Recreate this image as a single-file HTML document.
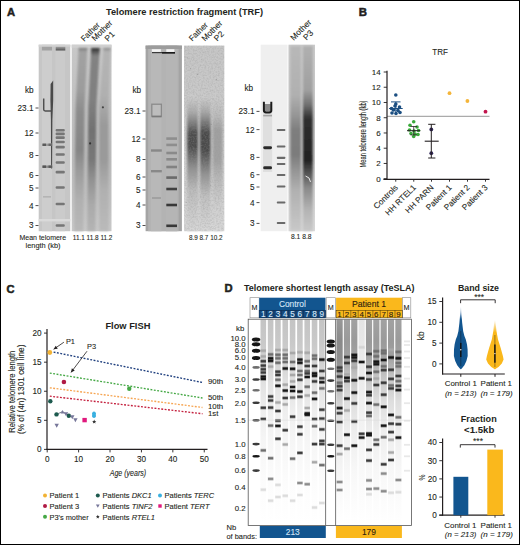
<!DOCTYPE html>
<html><head><meta charset="utf-8"><style>
html,body{margin:0;padding:0;background:#fff;}
body{width:520px;height:545px;overflow:hidden;}
svg{display:block;font-family:"Liberation Sans",sans-serif;}
</style></head><body>
<svg width="520" height="545" viewBox="0 0 520 545">
<defs><linearGradient id="well1" gradientUnits="userSpaceOnUse" x1="0" y1="46.8" x2="0" y2="50.5"><stop offset="0.0000" stop-color="#a0a0a0"/><stop offset="0.5946" stop-color="#707070"/><stop offset="1.0000" stop-color="#505050"/></linearGradient><linearGradient id="g1bg" gradientUnits="userSpaceOnUse" x1="0" y1="45" x2="0" y2="231"><stop offset="0.0000" stop-color="#c8c8c8"/><stop offset="0.2957" stop-color="#c0c0c0"/><stop offset="0.6183" stop-color="#bababa"/><stop offset="0.8333" stop-color="#c0c0c0"/><stop offset="1.0000" stop-color="#c8c8c8"/></linearGradient><linearGradient id="g1F" gradientUnits="userSpaceOnUse" x1="0" y1="48" x2="0" y2="231"><stop offset="0.0000" stop-color="#787878"/><stop offset="0.0219" stop-color="#a2a2a2"/><stop offset="0.2295" stop-color="#9c9c9c"/><stop offset="0.3497" stop-color="#8c8c8c"/><stop offset="0.5574" stop-color="#868686"/><stop offset="0.6776" stop-color="#9c9c9c"/><stop offset="0.8306" stop-color="#b0b0b0"/><stop offset="1.0000" stop-color="#b8b8b8"/></linearGradient><linearGradient id="g1M" gradientUnits="userSpaceOnUse" x1="0" y1="48" x2="0" y2="231"><stop offset="0.0000" stop-color="#2a2a2a"/><stop offset="0.0219" stop-color="#5a5a5a"/><stop offset="0.0437" stop-color="#828282"/><stop offset="0.2842" stop-color="#808080"/><stop offset="0.4481" stop-color="#727272"/><stop offset="0.6120" stop-color="#787878"/><stop offset="0.7213" stop-color="#929292"/><stop offset="0.8579" stop-color="#aaaaaa"/><stop offset="1.0000" stop-color="#b4b4b4"/></linearGradient><linearGradient id="g1P" gradientUnits="userSpaceOnUse" x1="0" y1="48" x2="0" y2="231"><stop offset="0.0000" stop-color="#8a8a8a"/><stop offset="0.0219" stop-color="#b4b4b4"/><stop offset="0.2568" stop-color="#b0b0b0"/><stop offset="0.4208" stop-color="#9a9a9a"/><stop offset="0.6120" stop-color="#9a9a9a"/><stop offset="0.7760" stop-color="#b0b0b0"/><stop offset="1.0000" stop-color="#bababa"/></linearGradient><linearGradient id="g2bg" gradientUnits="userSpaceOnUse" x1="0" y1="45" x2="0" y2="231"><stop offset="0.0000" stop-color="#c6c6c6"/><stop offset="0.2957" stop-color="#cacaca"/><stop offset="0.7258" stop-color="#d2d2d2"/><stop offset="1.0000" stop-color="#d6d6d6"/></linearGradient><linearGradient id="g2a" gradientUnits="userSpaceOnUse" x1="0" y1="98" x2="0" y2="231"><stop offset="0.0000" stop-color="#cacaca"/><stop offset="0.1053" stop-color="#acacac"/><stop offset="0.1955" stop-color="#7a7a7a"/><stop offset="0.2632" stop-color="#4e4e4e"/><stop offset="0.3609" stop-color="#4c4c4c"/><stop offset="0.4361" stop-color="#6a6a6a"/><stop offset="0.5263" stop-color="#909090"/><stop offset="0.6917" stop-color="#bcbcbc"/><stop offset="1.0000" stop-color="#d6d6d6"/></linearGradient><linearGradient id="g2b" gradientUnits="userSpaceOnUse" x1="0" y1="98" x2="0" y2="231"><stop offset="0.0000" stop-color="#cacaca"/><stop offset="0.1053" stop-color="#a8a8a8"/><stop offset="0.1955" stop-color="#727272"/><stop offset="0.2632" stop-color="#4a4a4a"/><stop offset="0.3910" stop-color="#4a4a4a"/><stop offset="0.4662" stop-color="#686868"/><stop offset="0.5714" stop-color="#929292"/><stop offset="0.7368" stop-color="#c0c0c0"/><stop offset="1.0000" stop-color="#d6d6d6"/></linearGradient><linearGradient id="g2c" gradientUnits="userSpaceOnUse" x1="0" y1="98" x2="0" y2="231"><stop offset="0.0000" stop-color="#cacaca"/><stop offset="0.1278" stop-color="#bcbcbc"/><stop offset="0.2406" stop-color="#a0a0a0"/><stop offset="0.4662" stop-color="#a2a2a2"/><stop offset="0.6015" stop-color="#b8b8b8"/><stop offset="0.8045" stop-color="#cecece"/><stop offset="1.0000" stop-color="#d8d8d8"/></linearGradient><linearGradient id="g3bg" gradientUnits="userSpaceOnUse" x1="0" y1="45" x2="0" y2="231"><stop offset="0.0000" stop-color="#cacaca"/><stop offset="0.4032" stop-color="#c8c8c8"/><stop offset="0.7258" stop-color="#d0d0d0"/><stop offset="1.0000" stop-color="#d8d8d8"/></linearGradient><linearGradient id="g3M" gradientUnits="userSpaceOnUse" x1="0" y1="46" x2="0" y2="231"><stop offset="0.0000" stop-color="#b8b8b8"/><stop offset="0.2649" stop-color="#b0b0b0"/><stop offset="0.3730" stop-color="#969696"/><stop offset="0.4541" stop-color="#7e7e7e"/><stop offset="0.5892" stop-color="#7c7c7c"/><stop offset="0.6703" stop-color="#949494"/><stop offset="0.7784" stop-color="#b0b0b0"/><stop offset="1.0000" stop-color="#c8c8c8"/></linearGradient><linearGradient id="g3P" gradientUnits="userSpaceOnUse" x1="0" y1="46" x2="0" y2="231"><stop offset="0.0000" stop-color="#b0b0b0"/><stop offset="0.2378" stop-color="#a0a0a0"/><stop offset="0.3189" stop-color="#707070"/><stop offset="0.3892" stop-color="#303030"/><stop offset="0.6162" stop-color="#222222"/><stop offset="0.6811" stop-color="#505050"/><stop offset="0.7676" stop-color="#8a8a8a"/><stop offset="0.8865" stop-color="#b4b4b4"/><stop offset="1.0000" stop-color="#c8c8c8"/></linearGradient><filter id="noise" x="0" y="0" width="100%" height="100%"><feTurbulence type="fractalNoise" baseFrequency="0.6" numOctaves="2" seed="5"/><feColorMatrix type="matrix" values="0 0 0 0 0.3  0 0 0 0 0.3  0 0 0 0 0.3  1.6 0 0 0 -0.6"/><feComposite in2="SourceGraphic" operator="in"/></filter><filter id="gblur" x="0" y="0" width="520" height="545" filterUnits="userSpaceOnUse"><feGaussianBlur stdDeviation="0.35"/></filter><filter id="b05" x="-50%" y="-50%" width="200%" height="200%"><feGaussianBlur stdDeviation="0.5"/></filter>
<filter id="b07" x="-50%" y="-50%" width="200%" height="200%"><feGaussianBlur stdDeviation="0.7"/></filter>
<filter id="b08" x="-50%" y="-50%" width="200%" height="200%"><feGaussianBlur stdDeviation="0.85"/></filter>
<filter id="b1" x="-50%" y="-50%" width="200%" height="200%"><feGaussianBlur stdDeviation="1.2"/></filter><linearGradient id="lsC" x1="0" y1="0" x2="0" y2="1"><stop offset="0" stop-color="#c4c4c4"/><stop offset="0.1" stop-color="#c8c8c8"/><stop offset="0.2" stop-color="#d0d0d0"/><stop offset="0.3" stop-color="#e0e0e0"/><stop offset="0.45" stop-color="#eeeeee"/><stop offset="0.6" stop-color="#f6f6f6"/><stop offset="0.8" stop-color="#fcfcfc"/><stop offset="1" stop-color="#ffffff"/></linearGradient><linearGradient id="lsP" x1="0" y1="0" x2="0" y2="1"><stop offset="0" stop-color="#a2a2a2"/><stop offset="0.1" stop-color="#9a9a9a"/><stop offset="0.18" stop-color="#a0a0a0"/><stop offset="0.28" stop-color="#c4c4c4"/><stop offset="0.4" stop-color="#dedede"/><stop offset="0.55" stop-color="#eeeeee"/><stop offset="0.75" stop-color="#f8f8f8"/><stop offset="1" stop-color="#ffffff"/></linearGradient><linearGradient id="lsP1" x1="0" y1="0" x2="0" y2="1"><stop offset="0" stop-color="#989898"/><stop offset="0.1" stop-color="#8a8a8a"/><stop offset="0.2" stop-color="#8e8e8e"/><stop offset="0.3" stop-color="#b4b4b4"/><stop offset="0.42" stop-color="#d6d6d6"/><stop offset="0.55" stop-color="#eaeaea"/><stop offset="0.75" stop-color="#f6f6f6"/><stop offset="1" stop-color="#ffffff"/></linearGradient><linearGradient id="lsP4" x1="0" y1="0" x2="0" y2="1"><stop offset="0" stop-color="#e4e4e4"/><stop offset="0.3" stop-color="#ececec"/><stop offset="0.7" stop-color="#f8f8f8"/><stop offset="1" stop-color="#ffffff"/></linearGradient><filter id="b04" x="-10%" y="-10%" width="120%" height="120%"><feGaussianBlur stdDeviation="0.5"/></filter><linearGradient id="vgC" x1="0" y1="0" x2="0" y2="1"><stop offset="0" stop-color="#ffffff"/><stop offset="0.1" stop-color="#9fb8d3"/><stop offset="0.2" stop-color="#12558f"/><stop offset="1" stop-color="#12558f"/></linearGradient><linearGradient id="vgP" x1="0" y1="0" x2="0" y2="1"><stop offset="0" stop-color="#ffffff"/><stop offset="0.12" stop-color="#f9dc98"/><stop offset="0.25" stop-color="#fab81c"/><stop offset="1" stop-color="#fab81c"/></linearGradient></defs>
<rect x="0" y="0" width="520" height="545" fill="#fff"/>
<text x="7" y="15.6" font-size="11.2" font-weight="bold" fill="#231f20" stroke="#231f20" stroke-width="0.5">A</text>
<text x="106" y="15" font-size="9.25" font-weight="bold" fill="#231f20" textLength="157" lengthAdjust="spacingAndGlyphs" >Telomere restriction fragment (TRF)</text>
<rect x="38.7" y="44.7" width="31.6" height="186.5" fill="#c6c6c6" />
<rect x="42" y="44.7" width="10" height="186.5" fill="#cdcdcd" />
<rect x="55.5" y="44.7" width="9.5" height="186.5" fill="#cbcbcb" />
<rect x="38.7" y="44.7" width="31.6" height="2" fill="#d2d2d2" />
<rect x="41.9" y="46.8" width="10.1" height="3.7" fill="#a2a2a2" filter="url(#b05)"/>
<rect x="55.7" y="46.8" width="9.6" height="3.7" fill="url(#well1)" filter="url(#b05)"/>
<rect x="38.7" y="219" width="31.6" height="2.4" fill="#dadada" />
<g filter="url(#b05)">
<path d="M43.7 98.5 L43.7 109.5 Q43.7 110.9 45.2 110.9 L51 110.9" fill="none" stroke="#505050" stroke-width="1.5" />
<polygon points="50.60,84.00 53.20,80.50 53.20,100.00 52.40,120.00 52.10,168.50 51.10,168.50 50.90,120.00 50.40,100.00" fill="#4a4a4a" />
<rect x="42.5" y="143.6" width="10" height="2.4" fill="#9a9a9a" />
<rect x="42.5" y="143.6" width="3.5" height="2.4" fill="#5a5a5a" />
<rect x="48.5" y="143.6" width="3.5" height="2.4" fill="#6a6a6a" />
<rect x="42.5" y="165.5" width="10" height="2.4" fill="#8a8a8a" />
<rect x="42.5" y="165.5" width="3.5" height="2.4" fill="#555" />
<rect x="48.5" y="165.5" width="3.5" height="2.4" fill="#5a5a5a" />
<rect x="43" y="196" width="8" height="1.6" fill="#b4b4b4" />
<rect x="55.6" y="128.89999999999998" width="9.2" height="2.6" fill="#767676" rx="1"/>
<rect x="55.6" y="132.6" width="9.2" height="2.6" fill="#767676" rx="1"/>
<rect x="55.6" y="136.29999999999998" width="9.2" height="2.6" fill="#767676" rx="1"/>
<rect x="55.6" y="140.7" width="9.2" height="2.6" fill="#767676" rx="1"/>
<rect x="55.6" y="145.79999999999998" width="9.2" height="2.6" fill="#767676" rx="1"/>
<rect x="55.6" y="153.2" width="9.2" height="2.6" fill="#767676" rx="1"/>
<rect x="55.6" y="161.2" width="9.2" height="2.6" fill="#767676" rx="1"/>
<rect x="55.6" y="170.79999999999998" width="9.2" height="2.6" fill="#767676" rx="1"/>
<rect x="55.6" y="186.2" width="9.2" height="2.6" fill="#767676" rx="1"/>
<rect x="55.6" y="202.7" width="9.2" height="2.6" fill="#767676" rx="1"/>
<rect x="55.6" y="224.2" width="9.2" height="2.6" fill="#767676" rx="1"/>
</g>
<rect x="71.7" y="44.7" width="39.8" height="186.5" fill="url(#g1bg)" />
<rect x="71.7" y="44.7" width="39.8" height="3" fill="#d0d0d0" />
<g filter="url(#b08)">
<polygon points="78.60,48.00 87.30,48.00 84.60,107.00 83.40,231.00 74.20,231.00 75.60,107.00" fill="url(#g1F)" />
<polygon points="91.20,48.00 99.80,48.00 96.40,107.00 95.40,231.00 87.20,231.00 88.20,107.00" fill="url(#g1M)" />
<polygon points="103.50,48.00 110.50,48.00 108.40,107.00 108.60,231.00 99.30,231.00 99.20,107.00" fill="url(#g1P)" />
</g>
<circle cx="90.1" cy="143.4" r="1.1" fill="#333" filter="url(#b05)"/>
<circle cx="102.9" cy="107.3" r="1.1" fill="#444" filter="url(#b05)"/>
<rect x="145.6" y="45.6" width="36.3" height="185.6" fill="#a4a4a4" />
<rect x="148.2" y="45.6" width="30.4" height="185.6" fill="#b3b3b3" />
<rect x="151" y="45.6" width="10.5" height="185.6" fill="#b8b8b8" />
<rect x="166" y="45.6" width="11" height="185.6" fill="#b5b5b5" />
<rect x="145.6" y="45.6" width="36.3" height="3.4" fill="#9c9c9c" />
<rect x="151.9" y="49.2" width="9" height="2.7" fill="#f4f4f4" />
<rect x="166.3" y="49.2" width="8.1" height="2.7" fill="#f4f4f4" />
<rect x="152" y="52" width="23" height="1.2" fill="#3a3a3a" filter="url(#b05)"/>
<rect x="162" y="52" width="13" height="1.6" fill="#1a1a1a" />
<g filter="url(#b05)">
<rect x="151.8" y="104.2" width="9.6" height="12.4" fill="#bdbdbd" stroke="#8a8a8a" stroke-width="1.3"/>
<line x1="152" y1="116.4" x2="161.2" y2="116.4" stroke="#7a7a7a" stroke-width="1.6" />
<rect x="151" y="149.3" width="10.8" height="2.4" fill="#888" />
<rect x="151" y="170" width="10.8" height="2.4" fill="#888" />
<rect x="152" y="197.2" width="9" height="1.6" fill="#9c9c9c" />
<rect x="166.3" y="137.29999999999998" width="10.7" height="2.6" fill="#8e8e8e" />
<rect x="166.3" y="143.6" width="10.7" height="2.6" fill="#8e8e8e" />
<rect x="166.3" y="151.7" width="10.7" height="2.6" fill="#8a8a8a" />
<rect x="166.3" y="158.0" width="10.7" height="2.6" fill="#8a8a8a" />
<rect x="166.3" y="165.7" width="10.7" height="2.6" fill="#828282" />
<rect x="166.3" y="176.29999999999998" width="10.7" height="2.6" fill="#6a6a6a" />
<rect x="166.3" y="187.7" width="10.7" height="2.6" fill="#404040" />
<rect x="166.3" y="203.7" width="10.7" height="2.6" fill="#383838" />
<rect x="166.3" y="224.5" width="10.7" height="2.6" fill="#383838" />
</g>
<rect x="184" y="45.6" width="40.3" height="185.6" fill="url(#g2bg)" />
<circle cx="197.5" cy="74.3" r="0.66" fill="#8a8a8a" opacity="0.7"/>
<circle cx="187.8" cy="144.0" r="0.55" fill="#8a8a8a" opacity="0.7"/>
<circle cx="187.2" cy="138.8" r="0.41" fill="#8a8a8a" opacity="0.7"/>
<circle cx="201.7" cy="59.6" r="0.44" fill="#8a8a8a" opacity="0.7"/>
<circle cx="201.3" cy="196.7" r="0.45" fill="#8a8a8a" opacity="0.7"/>
<circle cx="193.6" cy="160.6" r="0.78" fill="#8a8a8a" opacity="0.7"/>
<circle cx="207.2" cy="118.8" r="0.79" fill="#8a8a8a" opacity="0.7"/>
<circle cx="186.8" cy="202.4" r="0.52" fill="#8a8a8a" opacity="0.7"/>
<circle cx="190.6" cy="68.3" r="0.52" fill="#8a8a8a" opacity="0.7"/>
<circle cx="216.4" cy="79.7" r="0.63" fill="#8a8a8a" opacity="0.7"/>
<circle cx="209.6" cy="114.4" r="0.62" fill="#8a8a8a" opacity="0.7"/>
<circle cx="187.4" cy="57.8" r="0.48" fill="#8a8a8a" opacity="0.7"/>
<circle cx="211.2" cy="124.4" r="0.53" fill="#8a8a8a" opacity="0.7"/>
<circle cx="207.5" cy="129.0" r="0.52" fill="#8a8a8a" opacity="0.7"/>
<circle cx="215.6" cy="173.5" r="0.5" fill="#8a8a8a" opacity="0.7"/>
<circle cx="207.1" cy="142.1" r="0.75" fill="#8a8a8a" opacity="0.7"/>
<circle cx="213.1" cy="99.1" r="0.79" fill="#8a8a8a" opacity="0.7"/>
<circle cx="189.5" cy="122.7" r="0.7" fill="#8a8a8a" opacity="0.7"/>
<circle cx="190.9" cy="135.5" r="0.42" fill="#8a8a8a" opacity="0.7"/>
<circle cx="210.7" cy="185.4" r="0.63" fill="#8a8a8a" opacity="0.7"/>
<circle cx="218.7" cy="103.8" r="0.68" fill="#8a8a8a" opacity="0.7"/>
<circle cx="207.9" cy="152.0" r="0.58" fill="#8a8a8a" opacity="0.7"/>
<g filter="url(#b08)">
<polygon points="187.20,98.00 198.00,98.00 198.00,150.00 198.00,231.00 187.20,231.00 187.20,150.00" fill="url(#g2a)" />
<polygon points="200.00,98.00 210.60,98.00 210.60,150.00 210.60,231.00 200.00,231.00 200.00,150.00" fill="url(#g2b)" />
<polygon points="212.60,98.00 222.60,98.00 222.60,150.00 222.60,231.00 212.60,231.00 212.60,150.00" fill="url(#g2c)" />
</g>
<rect x="184" y="45.6" width="40.3" height="185.6" fill="#000" filter="url(#noise)" opacity="0.42"/>
<rect x="260.7" y="44.7" width="26.8" height="186.5" fill="#efefef" />
<g filter="url(#b05)">
<rect x="263" y="108" width="9.2" height="64" fill="#dfdfdf" />
<rect x="264.5" y="104" width="6.2" height="7.5" fill="#8a8a8a" />
<path d="M263.9 101.8 L263.9 110.6 Q263.9 112.4 266 112.4 L269.3 112.4 Q271.3 112.4 271.3 110.6 L271.3 101.8" fill="none" stroke="#1c1c1c" stroke-width="2.0" />
<rect x="263.2" y="114.8" width="8.8" height="1.6" fill="#a4a4a4" />
<rect x="263.2" y="146.2" width="8.8" height="3" fill="#2a2a2a" rx="1.4"/>
<rect x="263.2" y="166.3" width="8.8" height="3" fill="#2a2a2a" rx="1.4"/>
<rect x="276.8" y="129" width="8.6" height="2.1" fill="#6a6a6a" rx="0.8"/>
<rect x="276.8" y="145.4" width="8.6" height="2.1" fill="#6a6a6a" rx="0.8"/>
<rect x="276.8" y="156.8" width="8.6" height="2.1" fill="#6a6a6a" rx="0.8"/>
<rect x="276.8" y="163" width="8.6" height="2.1" fill="#6a6a6a" rx="0.8"/>
<rect x="276.8" y="174" width="8.6" height="2.1" fill="#6a6a6a" rx="0.8"/>
<rect x="276.8" y="185.4" width="8.6" height="2.1" fill="#6a6a6a" rx="0.8"/>
<rect x="276.8" y="201.5" width="8.6" height="2.1" fill="#6a6a6a" rx="0.8"/>
<rect x="276.8" y="221.9" width="8.6" height="2.1" fill="#6a6a6a" rx="0.8"/>
</g>
<rect x="288.5" y="44.7" width="26.5" height="186.5" fill="url(#g3bg)" />
<g filter="url(#b1)">
<polygon points="290.30,46.00 301.00,46.00 301.00,130.00 301.00,231.00 290.30,231.00 290.30,130.00" fill="url(#g3M)" />
<polygon points="302.90,46.00 312.80,46.00 312.80,130.00 312.80,231.00 302.90,231.00 302.90,130.00" fill="url(#g3P)" />
</g>
<path d="M305.5 176 Q310 177 310.5 182" fill="none" stroke="#e8e8e8" stroke-width="1.0" />
<text x="25" y="92.6" font-size="8.2" fill="#231f20" stroke="#231f20" stroke-width="0.1" >kb</text>
<text x="33.5" y="110.9" font-size="8.2" text-anchor="end" fill="#231f20" stroke="#231f20" stroke-width="0.1" >23.1</text>
<line x1="35.5" y1="108" x2="38.5" y2="108" stroke="#231f20" stroke-width="0.8" />
<text x="33.5" y="135.9" font-size="8.2" text-anchor="end" fill="#231f20" stroke="#231f20" stroke-width="0.1" >12</text>
<line x1="35.5" y1="133" x2="38.5" y2="133" stroke="#231f20" stroke-width="0.8" />
<text x="33.5" y="158.4" font-size="8.2" text-anchor="end" fill="#231f20" stroke="#231f20" stroke-width="0.1" >8</text>
<line x1="35.5" y1="155.5" x2="38.5" y2="155.5" stroke="#231f20" stroke-width="0.8" />
<text x="33.5" y="178.4" font-size="8.2" text-anchor="end" fill="#231f20" stroke="#231f20" stroke-width="0.1" >6</text>
<line x1="35.5" y1="175.5" x2="38.5" y2="175.5" stroke="#231f20" stroke-width="0.8" />
<text x="33.5" y="190.9" font-size="8.2" text-anchor="end" fill="#231f20" stroke="#231f20" stroke-width="0.1" >5</text>
<line x1="35.5" y1="188" x2="38.5" y2="188" stroke="#231f20" stroke-width="0.8" />
<text x="33.5" y="208.5" font-size="8.2" text-anchor="end" fill="#231f20" stroke="#231f20" stroke-width="0.1" >4</text>
<line x1="35.5" y1="205.6" x2="38.5" y2="205.6" stroke="#231f20" stroke-width="0.8" />
<text x="33.5" y="228.4" font-size="8.2" text-anchor="end" fill="#231f20" stroke="#231f20" stroke-width="0.1" >3</text>
<line x1="35.5" y1="225.5" x2="38.5" y2="225.5" stroke="#231f20" stroke-width="0.8" />
<text x="132.5" y="92.6" font-size="8.2" fill="#231f20" stroke="#231f20" stroke-width="0.1" >kb</text>
<text x="140.5" y="113.9" font-size="8.2" text-anchor="end" fill="#231f20" stroke="#231f20" stroke-width="0.1" >23.1</text>
<line x1="142.5" y1="111" x2="145.5" y2="111" stroke="#231f20" stroke-width="0.8" />
<text x="140.5" y="141.9" font-size="8.2" text-anchor="end" fill="#231f20" stroke="#231f20" stroke-width="0.1" >12</text>
<line x1="142.5" y1="139" x2="145.5" y2="139" stroke="#231f20" stroke-width="0.8" />
<text x="140.5" y="162.4" font-size="8.2" text-anchor="end" fill="#231f20" stroke="#231f20" stroke-width="0.1" >8</text>
<line x1="142.5" y1="159.5" x2="145.5" y2="159.5" stroke="#231f20" stroke-width="0.8" />
<text x="140.5" y="179.9" font-size="8.2" text-anchor="end" fill="#231f20" stroke="#231f20" stroke-width="0.1" >6</text>
<line x1="142.5" y1="177" x2="145.5" y2="177" stroke="#231f20" stroke-width="0.8" />
<text x="140.5" y="192.9" font-size="8.2" text-anchor="end" fill="#231f20" stroke="#231f20" stroke-width="0.1" >5</text>
<line x1="142.5" y1="190" x2="145.5" y2="190" stroke="#231f20" stroke-width="0.8" />
<text x="140.5" y="207.9" font-size="8.2" text-anchor="end" fill="#231f20" stroke="#231f20" stroke-width="0.1" >4</text>
<line x1="142.5" y1="205" x2="145.5" y2="205" stroke="#231f20" stroke-width="0.8" />
<text x="140.5" y="228.4" font-size="8.2" text-anchor="end" fill="#231f20" stroke="#231f20" stroke-width="0.1" >3</text>
<line x1="142.5" y1="225.5" x2="145.5" y2="225.5" stroke="#231f20" stroke-width="0.8" />
<text x="244.4" y="91.39999999999999" font-size="8.2" fill="#231f20" stroke="#231f20" stroke-width="0.1" >kb</text>
<text x="254.5" y="114.30000000000001" font-size="8.2" text-anchor="end" fill="#231f20" stroke="#231f20" stroke-width="0.1" >23.1</text>
<line x1="256.5" y1="111.4" x2="259.5" y2="111.4" stroke="#231f20" stroke-width="0.8" />
<text x="254.5" y="132.5" font-size="8.2" text-anchor="end" fill="#231f20" stroke="#231f20" stroke-width="0.1" >12</text>
<line x1="256.5" y1="129.6" x2="259.5" y2="129.6" stroke="#231f20" stroke-width="0.8" />
<text x="254.5" y="160.3" font-size="8.2" text-anchor="end" fill="#231f20" stroke="#231f20" stroke-width="0.1" >8</text>
<line x1="256.5" y1="157.4" x2="259.5" y2="157.4" stroke="#231f20" stroke-width="0.8" />
<text x="254.5" y="177.6" font-size="8.2" text-anchor="end" fill="#231f20" stroke="#231f20" stroke-width="0.1" >6</text>
<line x1="256.5" y1="174.7" x2="259.5" y2="174.7" stroke="#231f20" stroke-width="0.8" />
<text x="254.5" y="189.9" font-size="8.2" text-anchor="end" fill="#231f20" stroke="#231f20" stroke-width="0.1" >5</text>
<line x1="256.5" y1="187" x2="259.5" y2="187" stroke="#231f20" stroke-width="0.8" />
<text x="254.5" y="205.5" font-size="8.2" text-anchor="end" fill="#231f20" stroke="#231f20" stroke-width="0.1" >4</text>
<line x1="256.5" y1="202.6" x2="259.5" y2="202.6" stroke="#231f20" stroke-width="0.8" />
<text x="254.5" y="226.3" font-size="8.2" text-anchor="end" fill="#231f20" stroke="#231f20" stroke-width="0.1" >3</text>
<line x1="256.5" y1="223.4" x2="259.5" y2="223.4" stroke="#231f20" stroke-width="0.8" />
<text x="84.2" y="41.9" font-size="8.4" fill="#231f20" stroke="#231f20" stroke-width="0.1" textLength="23" lengthAdjust="spacingAndGlyphs" transform="rotate(-45 84.2 41.9)" >Father</text>
<text x="95" y="41.6" font-size="8.4" fill="#231f20" stroke="#231f20" stroke-width="0.1" textLength="25.5" lengthAdjust="spacingAndGlyphs" transform="rotate(-45 95 41.6)" >Mother</text>
<text x="108" y="41.9" font-size="8.4" fill="#231f20" stroke="#231f20" stroke-width="0.1" transform="rotate(-45 108 41.9)" >P1</text>
<text x="192.2" y="41.8" font-size="8.4" fill="#231f20" stroke="#231f20" stroke-width="0.1" textLength="23" lengthAdjust="spacingAndGlyphs" transform="rotate(-45 192.2 41.8)" >Father</text>
<text x="204.9" y="41.8" font-size="8.4" fill="#231f20" stroke="#231f20" stroke-width="0.1" textLength="25.5" lengthAdjust="spacingAndGlyphs" transform="rotate(-45 204.9 41.8)" >Mother</text>
<text x="217.3" y="41.8" font-size="8.4" fill="#231f20" stroke="#231f20" stroke-width="0.1" transform="rotate(-45 217.3 41.8)" >P2</text>
<text x="293.8" y="40.9" font-size="8.4" fill="#231f20" stroke="#231f20" stroke-width="0.1" textLength="25.5" lengthAdjust="spacingAndGlyphs" transform="rotate(-45 293.8 40.9)" >Mother</text>
<text x="306.5" y="40.7" font-size="8.4" fill="#231f20" stroke="#231f20" stroke-width="0.1" transform="rotate(-45 306.5 40.7)" >P3</text>
<text x="42.8" y="239.5" font-size="7.4" text-anchor="middle" fill="#231f20" stroke="#231f20" stroke-width="0.1" textLength="46.5" lengthAdjust="spacingAndGlyphs" >Mean telomere</text>
<text x="43" y="248.4" font-size="7.4" text-anchor="middle" fill="#231f20" stroke="#231f20" stroke-width="0.1" textLength="35" lengthAdjust="spacingAndGlyphs" >length (kb)</text>
<text x="72.8" y="239.5" font-size="7.2" fill="#231f20" stroke="#231f20" stroke-width="0.1" textLength="39.6" lengthAdjust="spacingAndGlyphs" >11.1 11.8 11.2</text>
<text x="189" y="239.6" font-size="7.2" fill="#231f20" stroke="#231f20" stroke-width="0.1" textLength="33.5" lengthAdjust="spacingAndGlyphs" >8.9 8.7 10.2</text>
<text x="291" y="238.6" font-size="7.2" fill="#231f20" stroke="#231f20" stroke-width="0.1" textLength="20.5" lengthAdjust="spacingAndGlyphs" >8.1 8.8</text>
<text x="358.7" y="15.9" font-size="11.4" font-weight="bold" fill="#231f20" stroke="#231f20" stroke-width="0.5">B</text>
<text x="432.3" y="54.6" font-size="9.1" fill="#231f20" stroke="#231f20" stroke-width="0.1" textLength="15.7" lengthAdjust="spacingAndGlyphs" >TRF</text>
<line x1="387" y1="116.3" x2="489.5" y2="116.3" stroke="#8a8a8a" stroke-width="0.9" />
<line x1="387" y1="70.8" x2="387" y2="179.9" stroke="#231f20" stroke-width="1.2" />
<line x1="383.4" y1="179.3" x2="489.5" y2="179.3" stroke="#231f20" stroke-width="1.2" />
<line x1="383.7" y1="178.7" x2="387" y2="178.7" stroke="#231f20" stroke-width="0.9" />
<text x="380.7" y="181.6" font-size="8.0" text-anchor="end" fill="#231f20" stroke="#231f20" stroke-width="0.1" >0</text>
<line x1="383.7" y1="163.45714285714286" x2="387" y2="163.45714285714286" stroke="#231f20" stroke-width="0.9" />
<text x="380.7" y="166.35714285714286" font-size="8.0" text-anchor="end" fill="#231f20" stroke="#231f20" stroke-width="0.1" >2</text>
<line x1="383.7" y1="148.2142857142857" x2="387" y2="148.2142857142857" stroke="#231f20" stroke-width="0.9" />
<text x="380.7" y="151.1142857142857" font-size="8.0" text-anchor="end" fill="#231f20" stroke="#231f20" stroke-width="0.1" >4</text>
<line x1="383.7" y1="132.97142857142856" x2="387" y2="132.97142857142856" stroke="#231f20" stroke-width="0.9" />
<text x="380.7" y="135.87142857142857" font-size="8.0" text-anchor="end" fill="#231f20" stroke="#231f20" stroke-width="0.1" >6</text>
<line x1="383.7" y1="117.72857142857143" x2="387" y2="117.72857142857143" stroke="#231f20" stroke-width="0.9" />
<text x="380.7" y="120.62857142857143" font-size="8.0" text-anchor="end" fill="#231f20" stroke="#231f20" stroke-width="0.1" >8</text>
<line x1="383.7" y1="102.48571428571428" x2="387" y2="102.48571428571428" stroke="#231f20" stroke-width="0.9" />
<text x="380.7" y="105.38571428571429" font-size="8.0" text-anchor="end" fill="#231f20" stroke="#231f20" stroke-width="0.1" >10</text>
<line x1="383.7" y1="87.24285714285713" x2="387" y2="87.24285714285713" stroke="#231f20" stroke-width="0.9" />
<text x="380.7" y="90.14285714285714" font-size="8.0" text-anchor="end" fill="#231f20" stroke="#231f20" stroke-width="0.1" >12</text>
<line x1="383.7" y1="72.0" x2="387" y2="72.0" stroke="#231f20" stroke-width="0.9" />
<text x="380.7" y="74.9" font-size="8.0" text-anchor="end" fill="#231f20" stroke="#231f20" stroke-width="0.1" >14</text>
<line x1="395.75" y1="179.3" x2="395.75" y2="181.70000000000002" stroke="#231f20" stroke-width="0.9" />
<line x1="413.75" y1="179.3" x2="413.75" y2="181.70000000000002" stroke="#231f20" stroke-width="0.9" />
<line x1="431.5" y1="179.3" x2="431.5" y2="181.70000000000002" stroke="#231f20" stroke-width="0.9" />
<line x1="449.5" y1="179.3" x2="449.5" y2="181.70000000000002" stroke="#231f20" stroke-width="0.9" />
<line x1="467.5" y1="179.3" x2="467.5" y2="181.70000000000002" stroke="#231f20" stroke-width="0.9" />
<line x1="485.5" y1="179.3" x2="485.5" y2="181.70000000000002" stroke="#231f20" stroke-width="0.9" />
<text x="398.45" y="188" font-size="8.2" text-anchor="end" fill="#231f20" stroke="#231f20" stroke-width="0.1" transform="rotate(-45 398.45 188)" >Controls</text>
<text x="416.45" y="188" font-size="8.2" text-anchor="end" fill="#231f20" stroke="#231f20" stroke-width="0.1" transform="rotate(-45 416.45 188)" >HH RTEL1</text>
<text x="434.2" y="188" font-size="8.2" text-anchor="end" fill="#231f20" stroke="#231f20" stroke-width="0.1" transform="rotate(-45 434.2 188)" >HH PARN</text>
<text x="452.2" y="188" font-size="8.2" text-anchor="end" fill="#231f20" stroke="#231f20" stroke-width="0.1" transform="rotate(-45 452.2 188)" >Patient 1</text>
<text x="470.2" y="188" font-size="8.2" text-anchor="end" fill="#231f20" stroke="#231f20" stroke-width="0.1" transform="rotate(-45 470.2 188)" >Patient 2</text>
<text x="488.2" y="188" font-size="8.2" text-anchor="end" fill="#231f20" stroke="#231f20" stroke-width="0.1" transform="rotate(-45 488.2 188)" >Patient 3</text>
<text x="365.8" y="134" font-size="8.6" text-anchor="middle" fill="#231f20" stroke="#231f20" stroke-width="0.1" textLength="67" lengthAdjust="spacingAndGlyphs" transform="rotate(-90 365.8 134)" >Mean telomere length (kb)</text>
<circle cx="395.8" cy="95" r="1.8" fill="#1c4f82" />
<circle cx="391.5" cy="108.5" r="1.8" fill="#1c4f82" />
<circle cx="395" cy="106" r="1.8" fill="#1c4f82" />
<circle cx="399.5" cy="107" r="1.8" fill="#1c4f82" />
<circle cx="392" cy="113" r="1.8" fill="#1c4f82" />
<circle cx="396" cy="113.5" r="1.8" fill="#1c4f82" />
<circle cx="400" cy="112.5" r="1.8" fill="#1c4f82" />
<circle cx="393.5" cy="110" r="1.8" fill="#1c4f82" />
<circle cx="398" cy="110.5" r="1.8" fill="#1c4f82" />
<circle cx="395.8" cy="104" r="1.8" fill="#1c4f82" />
<line x1="395.8" y1="101.9" x2="395.8" y2="115" stroke="#1c4f82" stroke-width="1.0" />
<line x1="391" y1="101.9" x2="400.5" y2="101.9" stroke="#1c4f82" stroke-width="1.0" />
<line x1="389" y1="108.5" x2="402.7" y2="108.5" stroke="#1c4f82" stroke-width="1.0" />
<circle cx="413.7" cy="121.7" r="1.8" fill="#3aaa3a" />
<circle cx="410" cy="125.3" r="1.8" fill="#3aaa3a" />
<circle cx="417" cy="127" r="1.8" fill="#3aaa3a" />
<circle cx="409.5" cy="130" r="1.8" fill="#3aaa3a" />
<circle cx="414" cy="131" r="1.8" fill="#3aaa3a" />
<circle cx="418.5" cy="130.5" r="1.8" fill="#3aaa3a" />
<circle cx="411" cy="133.5" r="1.8" fill="#3aaa3a" />
<circle cx="415" cy="134" r="1.8" fill="#3aaa3a" />
<circle cx="418" cy="134.5" r="1.8" fill="#3aaa3a" />
<circle cx="413.7" cy="136.5" r="1.8" fill="#3aaa3a" />
<line x1="413.75" y1="126.5" x2="413.75" y2="134.9" stroke="#231f20" stroke-width="0.8" />
<line x1="410.5" y1="126.5" x2="417" y2="126.5" stroke="#231f20" stroke-width="0.8" />
<line x1="407" y1="130.7" x2="420.3" y2="130.7" stroke="#231f20" stroke-width="1.0" />
<line x1="410.5" y1="134.9" x2="417" y2="134.9" stroke="#231f20" stroke-width="0.8" />
<circle cx="431.3" cy="129.4" r="1.9" fill="#2e2456" />
<circle cx="431.3" cy="153.2" r="1.9" fill="#2e2456" />
<line x1="431.3" y1="124.3" x2="431.3" y2="158" stroke="#231f20" stroke-width="1.0" />
<line x1="428.2" y1="124.3" x2="435.4" y2="124.3" stroke="#231f20" stroke-width="1.0" />
<line x1="428.2" y1="158" x2="435.4" y2="158" stroke="#231f20" stroke-width="1.0" />
<line x1="424.7" y1="141.2" x2="438.7" y2="141.2" stroke="#231f20" stroke-width="1.1" />
<circle cx="449.5" cy="93.2" r="1.9" fill="#f4b53a" />
<circle cx="467.4" cy="101" r="1.9" fill="#f4b53a" />
<circle cx="485.5" cy="111.7" r="1.9" fill="#c2164e" />
<text x="6.6" y="292.8" font-size="11.2" font-weight="bold" fill="#231f20" stroke="#231f20" stroke-width="0.5">C</text>
<text x="105.4" y="328.6" font-size="9.4" font-weight="bold" fill="#231f20" textLength="45" lengthAdjust="spacingAndGlyphs" >Flow FISH</text>
<line x1="53.6" y1="352.1" x2="202.5" y2="382.5" stroke="#1f3f7e" stroke-width="1.35" stroke-dasharray="1.9 1.5"/>
<line x1="49.8" y1="373.1" x2="202.5" y2="398" stroke="#45a845" stroke-width="1.35" stroke-dasharray="1.9 1.5"/>
<line x1="49.8" y1="387.8" x2="202.5" y2="407.5" stroke="#f6a552" stroke-width="1.35" stroke-dasharray="1.9 1.5"/>
<line x1="49.8" y1="396.2" x2="202.5" y2="413.75" stroke="#c4203e" stroke-width="1.35" stroke-dasharray="1.9 1.5"/>
<line x1="47" y1="329" x2="47" y2="450.0" stroke="#231f20" stroke-width="1.2" />
<line x1="46.4" y1="449.4" x2="207.5" y2="449.4" stroke="#231f20" stroke-width="1.2" />
<line x1="44" y1="449.4" x2="47" y2="449.4" stroke="#231f20" stroke-width="0.9" />
<text x="41.5" y="452.29999999999995" font-size="8.2" text-anchor="end" fill="#231f20" stroke="#231f20" stroke-width="0.1" >0</text>
<line x1="44" y1="420.325" x2="47" y2="420.325" stroke="#231f20" stroke-width="0.9" />
<text x="41.5" y="423.22499999999997" font-size="8.2" text-anchor="end" fill="#231f20" stroke="#231f20" stroke-width="0.1" >5</text>
<line x1="44" y1="391.25" x2="47" y2="391.25" stroke="#231f20" stroke-width="0.9" />
<text x="41.5" y="394.15" font-size="8.2" text-anchor="end" fill="#231f20" stroke="#231f20" stroke-width="0.1" >10</text>
<line x1="44" y1="362.175" x2="47" y2="362.175" stroke="#231f20" stroke-width="0.9" />
<text x="41.5" y="365.075" font-size="8.2" text-anchor="end" fill="#231f20" stroke="#231f20" stroke-width="0.1" >15</text>
<line x1="44" y1="333.1" x2="47" y2="333.1" stroke="#231f20" stroke-width="0.9" />
<text x="41.5" y="336.0" font-size="8.2" text-anchor="end" fill="#231f20" stroke="#231f20" stroke-width="0.1" >20</text>
<line x1="47.2" y1="449.4" x2="47.2" y2="452.4" stroke="#231f20" stroke-width="0.9" />
<text x="47.2" y="461.9" font-size="8.2" text-anchor="middle" fill="#231f20" stroke="#231f20" stroke-width="0.1" >0</text>
<line x1="78.61" y1="449.4" x2="78.61" y2="452.4" stroke="#231f20" stroke-width="0.9" />
<text x="78.61" y="461.9" font-size="8.2" text-anchor="middle" fill="#231f20" stroke="#231f20" stroke-width="0.1" >10</text>
<line x1="110.02000000000001" y1="449.4" x2="110.02000000000001" y2="452.4" stroke="#231f20" stroke-width="0.9" />
<text x="110.02000000000001" y="461.9" font-size="8.2" text-anchor="middle" fill="#231f20" stroke="#231f20" stroke-width="0.1" >20</text>
<line x1="141.43" y1="449.4" x2="141.43" y2="452.4" stroke="#231f20" stroke-width="0.9" />
<text x="141.43" y="461.9" font-size="8.2" text-anchor="middle" fill="#231f20" stroke="#231f20" stroke-width="0.1" >30</text>
<line x1="172.84" y1="449.4" x2="172.84" y2="452.4" stroke="#231f20" stroke-width="0.9" />
<text x="172.84" y="461.9" font-size="8.2" text-anchor="middle" fill="#231f20" stroke="#231f20" stroke-width="0.1" >40</text>
<line x1="204.25" y1="449.4" x2="204.25" y2="452.4" stroke="#231f20" stroke-width="0.9" />
<text x="204.25" y="461.9" font-size="8.2" text-anchor="middle" fill="#231f20" stroke="#231f20" stroke-width="0.1" >50</text>
<text x="109.7" y="475.6" font-size="8.6" fill="#231f20" stroke="#231f20" stroke-width="0.1" font-style="italic" textLength="36.5" lengthAdjust="spacingAndGlyphs" >Age (years)</text>
<text x="14.8" y="391.7" font-size="8.2" text-anchor="middle" fill="#231f20" stroke="#231f20" stroke-width="0.1" textLength="82" lengthAdjust="spacingAndGlyphs" transform="rotate(-90 14.8 391.7)" >Relative telomere length</text>
<text x="23.8" y="389.3" font-size="8.2" text-anchor="middle" fill="#231f20" stroke="#231f20" stroke-width="0.1" textLength="89.5" lengthAdjust="spacingAndGlyphs" transform="rotate(-90 23.8 389.3)" >(% of (4n) 1301 cell line)</text>
<text x="208" y="383.55" font-size="7.8" fill="#231f20" stroke="#231f20" stroke-width="0.1" >90th</text>
<text x="208" y="399.8" font-size="7.8" fill="#231f20" stroke="#231f20" stroke-width="0.1" >50th</text>
<text x="208" y="409.05" font-size="7.8" fill="#231f20" stroke="#231f20" stroke-width="0.1" >10th</text>
<text x="208" y="415.8" font-size="7.8" fill="#231f20" stroke="#231f20" stroke-width="0.1" >1st</text>
<circle cx="49.8" cy="352.5" r="2.4" fill="#f2b233" />
<circle cx="63.9" cy="382" r="2.3" fill="#b01a44" />
<circle cx="129.25" cy="388.75" r="2.2" fill="#45a845" />
<path d="M56.5 414.4 L62.5 411.6 L68.8 415.8 L72.3 417.2" fill="none" stroke="#4a5a6a" stroke-width="0.7" />
<circle cx="50.3" cy="401.3" r="2.2" fill="#1d5a4e" />
<circle cx="56.5" cy="414.4" r="2.2" fill="#1d5a4e" />
<circle cx="68.8" cy="415.8" r="2.2" fill="#1d5a4e" />
<path d="M54.5 423.84000000000003 L58.900000000000006 423.84000000000003 L56.7 427.8 Z" fill="#77779a" stroke="none" stroke-width="0.8" />
<path d="M60.5 413.6 L64.5 413.6 L62.5 410.0 Z" fill="#77779a" stroke="none" stroke-width="0.8" />
<path d="M63.8 412.24 L68.2 412.24 L66 416.2 Z" fill="#77779a" stroke="none" stroke-width="0.8" />
<path d="M70.1 415.24 L74.5 415.24 L72.3 419.2 Z" fill="#77779a" stroke="none" stroke-width="0.8" />
<path d="M73.2 418.34000000000003 L77.60000000000001 418.34000000000003 L75.4 422.3 Z" fill="#77779a" stroke="none" stroke-width="0.8" />
<rect x="82.4" y="417.9" width="4.4" height="4.4" fill="#e0197d" />
<circle cx="94" cy="413.2" r="1.8" fill="#3ab0e0" />
<circle cx="94" cy="416.3" r="1.8" fill="#3ab0e0" />
<rect x="92.2" y="413.2" width="3.6" height="3.1" fill="#3ab0e0" />
<polygon points="94.20,419.60 94.78,421.00 96.29,421.12 95.14,422.11 95.49,423.58 94.20,422.79 92.91,423.58 93.26,422.11 92.11,421.12 93.62,421.00" fill="#333"/>
<text x="65.9" y="343.5" font-size="7.4" fill="#231f20" stroke="#231f20" stroke-width="0.1" >P1</text>
<text x="87" y="349" font-size="7.4" fill="#231f20" stroke="#231f20" stroke-width="0.1" >P3</text>
<line x1="63.9" y1="342.2" x2="53.6" y2="349.3" stroke="#231f20" stroke-width="0.8" />
<path d="M53.6 349.3 L57.75 348.63 L55.71 345.66 Z" fill="#231f20" stroke="none" stroke-width="0.8" />
<line x1="87" y1="351.2" x2="71" y2="372.4" stroke="#231f20" stroke-width="0.8" />
<path d="M71 372.4 L74.73 370.45 L71.85 368.28 Z" fill="#231f20" stroke="none" stroke-width="0.8" />
<circle cx="45" cy="495.4" r="2.0" fill="#f2b233" />
<circle cx="45" cy="506" r="2.0" fill="#b01a44" />
<circle cx="45" cy="516.8" r="2.0" fill="#45a845" />
<text x="49.6" y="498.09999999999997" font-size="7.5" fill="#231f20" stroke="#231f20" stroke-width="0.1" >Patient 1</text>
<text x="49.6" y="508.7" font-size="7.5" fill="#231f20" stroke="#231f20" stroke-width="0.1" >Patient 3</text>
<text x="49.6" y="519.5" font-size="7.5" fill="#231f20" stroke="#231f20" stroke-width="0.1" textLength="39" lengthAdjust="spacingAndGlyphs" >P3's mother</text>
<circle cx="97.8" cy="495.4" r="2.0" fill="#1d5a4e" />
<path d="M95.89999999999999 504.4 L99.7 504.4 L97.8 507.8 Z" fill="#77779a" stroke="none" stroke-width="0.8" />
<polygon points="97.80,514.80 98.33,516.07 99.70,516.18 98.66,517.08 98.98,518.42 97.80,517.70 96.62,518.42 96.94,517.08 95.90,516.18 97.27,516.07" fill="#333"/>
<text x="102.5" y="498.09999999999997" font-size="7.5" fill="#231f20" stroke="#231f20" stroke-width="0.1">Patients <tspan font-style="italic">DKC1</tspan></text>
<text x="102.5" y="508.7" font-size="7.5" fill="#231f20" stroke="#231f20" stroke-width="0.1">Patients <tspan font-style="italic">TINF2</tspan></text>
<text x="102.5" y="519.5" font-size="7.5" fill="#231f20" stroke="#231f20" stroke-width="0.1">Patients <tspan font-style="italic">RTEL1</tspan></text>
<circle cx="160" cy="495.4" r="2.0" fill="#3ab0e0" />
<rect x="158.3" y="504.3" width="3.4" height="3.4" fill="#e0197d" />
<text x="164.6" y="498.09999999999997" font-size="7.5" fill="#231f20" stroke="#231f20" stroke-width="0.1">Patients <tspan font-style="italic">TERC</tspan></text>
<text x="164.6" y="508.7" font-size="7.5" fill="#231f20" stroke="#231f20" stroke-width="0.1">Patient <tspan font-style="italic">TERT</tspan></text>
<text x="224.6" y="291.8" font-size="11.2" font-weight="bold" fill="#231f20" stroke="#231f20" stroke-width="0.5">D</text>
<text x="244" y="291" font-size="9.0" font-weight="bold" fill="#231f20" textLength="170.6" lengthAdjust="spacingAndGlyphs" >Telomere shortest length assay (TeSLA)</text>
<rect x="250" y="297.7" width="9.2" height="20.1" fill="#fff" stroke="#888" stroke-width="0.6"/>
<rect x="259.2" y="297.7" width="66.3" height="20.1" fill="#12558f" />
<rect x="326.2" y="297.7" width="9.4" height="20.1" fill="#fff" stroke="#888" stroke-width="0.6"/>
<rect x="336.1" y="297.7" width="66.3" height="20.1" fill="#fab81c" />
<rect x="402.4" y="297.7" width="8.4" height="20.1" fill="#fff" stroke="#888" stroke-width="0.6"/>
<text x="254.6" y="309.8" font-size="7.2" text-anchor="middle" fill="#231f20" stroke="#231f20" stroke-width="0.1" >M</text>
<text x="330.8" y="309.8" font-size="7.2" text-anchor="middle" fill="#231f20" stroke="#231f20" stroke-width="0.1" >M</text>
<text x="406.6" y="309.8" font-size="7.2" text-anchor="middle" fill="#231f20" stroke="#231f20" stroke-width="0.1" >M</text>
<text x="292.4" y="306.6" font-size="8.4" text-anchor="middle" fill="#d6e6f6" stroke="#d6e6f6" stroke-width="0.1" textLength="27" lengthAdjust="spacingAndGlyphs" >Control</text>
<text x="369" y="306.6" font-size="8.4" text-anchor="middle" fill="#2a2010" stroke="#2a2010" stroke-width="0.1" textLength="34" lengthAdjust="spacingAndGlyphs" >Patient 1</text>
<rect x="259.2" y="310.3" width="66.3" height="7.5" fill="#17497c" />
<rect x="259.2" y="310.3" width="66.3" height="7.5" fill="none" stroke="#0b2a4e" stroke-width="0.6"/>
<line x1="266.56" y1="310.3" x2="266.56" y2="317.8" stroke="#0b2a4e" stroke-width="0.6" />
<line x1="273.92" y1="310.3" x2="273.92" y2="317.8" stroke="#0b2a4e" stroke-width="0.6" />
<line x1="281.28" y1="310.3" x2="281.28" y2="317.8" stroke="#0b2a4e" stroke-width="0.6" />
<line x1="288.64" y1="310.3" x2="288.64" y2="317.8" stroke="#0b2a4e" stroke-width="0.6" />
<line x1="296.0" y1="310.3" x2="296.0" y2="317.8" stroke="#0b2a4e" stroke-width="0.6" />
<line x1="303.36" y1="310.3" x2="303.36" y2="317.8" stroke="#0b2a4e" stroke-width="0.6" />
<line x1="310.71999999999997" y1="310.3" x2="310.71999999999997" y2="317.8" stroke="#0b2a4e" stroke-width="0.6" />
<line x1="318.08" y1="310.3" x2="318.08" y2="317.8" stroke="#0b2a4e" stroke-width="0.6" />
<text x="263.3" y="317.1" font-size="8.2" text-anchor="middle" fill="#d8e8f8" stroke="#d8e8f8" stroke-width="0.1" >1</text>
<text x="270.62" y="317.1" font-size="8.2" text-anchor="middle" fill="#d8e8f8" stroke="#d8e8f8" stroke-width="0.1" >2</text>
<text x="277.94" y="317.1" font-size="8.2" text-anchor="middle" fill="#d8e8f8" stroke="#d8e8f8" stroke-width="0.1" >3</text>
<text x="285.26" y="317.1" font-size="8.2" text-anchor="middle" fill="#d8e8f8" stroke="#d8e8f8" stroke-width="0.1" >4</text>
<text x="292.58000000000004" y="317.1" font-size="8.2" text-anchor="middle" fill="#d8e8f8" stroke="#d8e8f8" stroke-width="0.1" >5</text>
<text x="299.90000000000003" y="317.1" font-size="8.2" text-anchor="middle" fill="#d8e8f8" stroke="#d8e8f8" stroke-width="0.1" >6</text>
<text x="307.22" y="317.1" font-size="8.2" text-anchor="middle" fill="#d8e8f8" stroke="#d8e8f8" stroke-width="0.1" >7</text>
<text x="314.54" y="317.1" font-size="8.2" text-anchor="middle" fill="#d8e8f8" stroke="#d8e8f8" stroke-width="0.1" >8</text>
<text x="321.86" y="317.1" font-size="8.2" text-anchor="middle" fill="#d8e8f8" stroke="#d8e8f8" stroke-width="0.1" >9</text>
<rect x="336.1" y="310.3" width="66.3" height="7.5" fill="none" stroke="#3a2a00" stroke-width="0.5"/>
<line x1="343.46000000000004" y1="310.3" x2="343.46000000000004" y2="317.8" stroke="#3a2a00" stroke-width="0.5" />
<line x1="350.82000000000005" y1="310.3" x2="350.82000000000005" y2="317.8" stroke="#3a2a00" stroke-width="0.5" />
<line x1="358.18" y1="310.3" x2="358.18" y2="317.8" stroke="#3a2a00" stroke-width="0.5" />
<line x1="365.54" y1="310.3" x2="365.54" y2="317.8" stroke="#3a2a00" stroke-width="0.5" />
<line x1="372.90000000000003" y1="310.3" x2="372.90000000000003" y2="317.8" stroke="#3a2a00" stroke-width="0.5" />
<line x1="380.26000000000005" y1="310.3" x2="380.26000000000005" y2="317.8" stroke="#3a2a00" stroke-width="0.5" />
<line x1="387.62" y1="310.3" x2="387.62" y2="317.8" stroke="#3a2a00" stroke-width="0.5" />
<line x1="394.98" y1="310.3" x2="394.98" y2="317.8" stroke="#3a2a00" stroke-width="0.5" />
<text x="339.6" y="317.1" font-size="8.0" text-anchor="middle" fill="#2a2010" stroke="#2a2010" stroke-width="0.1" >1</text>
<text x="346.95000000000005" y="317.1" font-size="8.0" text-anchor="middle" fill="#2a2010" stroke="#2a2010" stroke-width="0.1" >2</text>
<text x="354.3" y="317.1" font-size="8.0" text-anchor="middle" fill="#2a2010" stroke="#2a2010" stroke-width="0.1" >3</text>
<text x="361.65000000000003" y="317.1" font-size="8.0" text-anchor="middle" fill="#2a2010" stroke="#2a2010" stroke-width="0.1" >4</text>
<text x="369.0" y="317.1" font-size="8.0" text-anchor="middle" fill="#2a2010" stroke="#2a2010" stroke-width="0.1" >5</text>
<text x="376.35" y="317.1" font-size="8.0" text-anchor="middle" fill="#2a2010" stroke="#2a2010" stroke-width="0.1" >6</text>
<text x="383.70000000000005" y="317.1" font-size="8.0" text-anchor="middle" fill="#2a2010" stroke="#2a2010" stroke-width="0.1" >7</text>
<text x="391.05" y="317.1" font-size="8.0" text-anchor="middle" fill="#2a2010" stroke="#2a2010" stroke-width="0.1" >8</text>
<text x="398.40000000000003" y="317.1" font-size="8.0" text-anchor="middle" fill="#2a2010" stroke="#2a2010" stroke-width="0.1" >9</text>
<rect x="248.2" y="319" width="163.2" height="206.4" fill="#fff" />
<rect x="260.5" y="319.5" width="5.6" height="205" fill="url(#lsC)"/>
<rect x="267.82" y="319.5" width="5.6" height="205" fill="url(#lsC)"/>
<rect x="275.14" y="319.5" width="5.6" height="205" fill="url(#lsC)"/>
<rect x="282.46" y="319.5" width="5.6" height="205" fill="url(#lsC)"/>
<rect x="289.78000000000003" y="319.5" width="5.6" height="205" fill="url(#lsC)"/>
<rect x="297.1" y="319.5" width="5.6" height="205" fill="url(#lsC)"/>
<rect x="304.42" y="319.5" width="5.6" height="205" fill="url(#lsC)"/>
<rect x="311.74" y="319.5" width="5.6" height="205" fill="url(#lsC)"/>
<rect x="319.06" y="319.5" width="5.6" height="205" fill="url(#lsC)"/>
<rect x="336.5" y="319.5" width="6.2" height="205" fill="url(#lsP1)"/>
<rect x="343.85" y="319.5" width="6.2" height="205" fill="url(#lsP)"/>
<rect x="351.2" y="319.5" width="6.2" height="205" fill="url(#lsP)"/>
<rect x="358.55" y="319.5" width="6.2" height="205" fill="url(#lsP4)"/>
<rect x="365.9" y="319.5" width="6.2" height="205" fill="url(#lsP)"/>
<rect x="373.25" y="319.5" width="6.2" height="205" fill="url(#lsP)"/>
<rect x="380.6" y="319.5" width="6.2" height="205" fill="url(#lsP)"/>
<rect x="387.95" y="319.5" width="6.2" height="205" fill="url(#lsP)"/>
<rect x="395.3" y="319.5" width="6.2" height="205" fill="url(#lsP)"/>
<g filter="url(#b04)">
<rect x="260.5" y="348.95" width="5.6" height="3.5" fill="#a8a8a8" opacity="0.45"/>
<rect x="260.7" y="349.7" width="5.2" height="2.0" fill="#a8a8a8" />
<rect x="260.5" y="354.65" width="5.6" height="3.5" fill="#a8a8a8" opacity="0.45"/>
<rect x="260.7" y="355.4" width="5.2" height="2.0" fill="#a8a8a8" />
<rect x="260.5" y="359.45" width="5.6" height="3.5" fill="#3a3a3a" opacity="0.45"/>
<rect x="260.7" y="360.2" width="5.2" height="2.0" fill="#3a3a3a" />
<rect x="260.5" y="363.85" width="5.6" height="3.5" fill="#3a3a3a" opacity="0.45"/>
<rect x="260.7" y="364.6" width="5.2" height="2.0" fill="#3a3a3a" />
<rect x="260.5" y="367.55" width="5.6" height="3.5" fill="#3a3a3a" opacity="0.45"/>
<rect x="260.7" y="368.3" width="5.2" height="2.0" fill="#3a3a3a" />
<rect x="260.5" y="370.75" width="5.6" height="3.5" fill="#3a3a3a" opacity="0.45"/>
<rect x="260.7" y="371.5" width="5.2" height="2.0" fill="#3a3a3a" />
<rect x="260.5" y="374.85" width="5.6" height="3.5" fill="#151515" opacity="0.45"/>
<rect x="260.7" y="375.6" width="5.2" height="2.0" fill="#151515" />
<rect x="260.5" y="377.25" width="5.6" height="3.5" fill="#151515" opacity="0.45"/>
<rect x="260.7" y="378.0" width="5.2" height="2.0" fill="#151515" />
<rect x="260.5" y="406.05" width="5.6" height="3.5" fill="#3a3a3a" opacity="0.45"/>
<rect x="260.7" y="406.8" width="5.2" height="2.0" fill="#3a3a3a" />
<rect x="260.5" y="417.25" width="5.6" height="3.5" fill="#3a3a3a" opacity="0.45"/>
<rect x="260.7" y="418.0" width="5.2" height="2.0" fill="#3a3a3a" />
<rect x="260.5" y="448.65" width="5.6" height="3.5" fill="#6e6e6e" opacity="0.45"/>
<rect x="260.7" y="449.4" width="5.2" height="2.0" fill="#6e6e6e" />
<rect x="260.5" y="487.95" width="5.6" height="3.5" fill="#dcdcdc" opacity="0.45"/>
<rect x="260.7" y="488.7" width="5.2" height="2.0" fill="#dcdcdc" />
<rect x="267.82" y="352.65" width="5.6" height="3.5" fill="#6e6e6e" opacity="0.45"/>
<rect x="268.02" y="353.4" width="5.2" height="2.0" fill="#6e6e6e" />
<rect x="267.82" y="356.55" width="5.6" height="3.5" fill="#151515" opacity="0.45"/>
<rect x="268.02" y="357.3" width="5.2" height="2.0" fill="#151515" />
<rect x="267.82" y="359.15" width="5.6" height="3.5" fill="#151515" opacity="0.45"/>
<rect x="268.02" y="359.9" width="5.2" height="2.0" fill="#151515" />
<rect x="267.82" y="364.85" width="5.6" height="3.5" fill="#a8a8a8" opacity="0.45"/>
<rect x="268.02" y="365.6" width="5.2" height="2.0" fill="#a8a8a8" />
<rect x="267.82" y="394.75" width="5.6" height="3.5" fill="#3a3a3a" opacity="0.45"/>
<rect x="268.02" y="395.5" width="5.2" height="2.0" fill="#3a3a3a" />
<rect x="267.82" y="398.75" width="5.6" height="3.5" fill="#3a3a3a" opacity="0.45"/>
<rect x="268.02" y="399.5" width="5.2" height="2.0" fill="#3a3a3a" />
<rect x="267.82" y="405.85" width="5.6" height="3.5" fill="#3a3a3a" opacity="0.45"/>
<rect x="268.02" y="406.6" width="5.2" height="2.0" fill="#3a3a3a" />
<rect x="267.82" y="423.85" width="5.6" height="3.5" fill="#6e6e6e" opacity="0.45"/>
<rect x="268.02" y="424.6" width="5.2" height="2.0" fill="#6e6e6e" />
<rect x="267.82" y="456.45" width="5.6" height="3.5" fill="#6e6e6e" opacity="0.45"/>
<rect x="268.02" y="457.2" width="5.2" height="2.0" fill="#6e6e6e" />
<rect x="267.82" y="477.15" width="5.6" height="3.5" fill="#8c8c8c" opacity="0.45"/>
<rect x="268.02" y="477.9" width="5.2" height="2.0" fill="#8c8c8c" />
<rect x="267.82" y="498.95" width="5.6" height="3.5" fill="#dcdcdc" opacity="0.45"/>
<rect x="268.02" y="499.7" width="5.2" height="2.0" fill="#dcdcdc" />
<rect x="275.14" y="348.25" width="5.6" height="3.5" fill="#a8a8a8" opacity="0.45"/>
<rect x="275.34" y="349.0" width="5.2" height="2.0" fill="#a8a8a8" />
<rect x="275.14" y="353.05" width="5.6" height="3.5" fill="#6e6e6e" opacity="0.45"/>
<rect x="275.34" y="353.8" width="5.2" height="2.0" fill="#6e6e6e" />
<rect x="275.14" y="356.55" width="5.6" height="3.5" fill="#6e6e6e" opacity="0.45"/>
<rect x="275.34" y="357.3" width="5.2" height="2.0" fill="#6e6e6e" />
<rect x="275.14" y="361.05" width="5.6" height="3.5" fill="#6e6e6e" opacity="0.45"/>
<rect x="275.34" y="361.8" width="5.2" height="2.0" fill="#6e6e6e" />
<rect x="275.14" y="369.95" width="5.6" height="3.5" fill="#3a3a3a" opacity="0.45"/>
<rect x="275.34" y="370.7" width="5.2" height="2.0" fill="#3a3a3a" />
<rect x="275.14" y="373.25" width="5.6" height="3.5" fill="#3a3a3a" opacity="0.45"/>
<rect x="275.34" y="374.0" width="5.2" height="2.0" fill="#3a3a3a" />
<rect x="275.14" y="378.05" width="5.6" height="3.5" fill="#6e6e6e" opacity="0.45"/>
<rect x="275.34" y="378.8" width="5.2" height="2.0" fill="#6e6e6e" />
<rect x="275.14" y="384.05" width="5.6" height="3.5" fill="#151515" opacity="0.45"/>
<rect x="275.34" y="384.8" width="5.2" height="2.0" fill="#151515" />
<rect x="275.14" y="400.75" width="5.6" height="3.5" fill="#a8a8a8" opacity="0.45"/>
<rect x="275.34" y="401.5" width="5.2" height="2.0" fill="#a8a8a8" />
<rect x="275.14" y="409.25" width="5.6" height="3.5" fill="#3a3a3a" opacity="0.45"/>
<rect x="275.34" y="410.0" width="5.2" height="2.0" fill="#3a3a3a" />
<rect x="275.14" y="418.95" width="5.6" height="3.5" fill="#3a3a3a" opacity="0.45"/>
<rect x="275.34" y="419.7" width="5.2" height="2.0" fill="#3a3a3a" />
<rect x="275.14" y="424.15" width="5.6" height="3.5" fill="#151515" opacity="0.45"/>
<rect x="275.34" y="424.9" width="5.2" height="2.0" fill="#151515" />
<rect x="275.14" y="437.05" width="5.6" height="3.5" fill="#3a3a3a" opacity="0.45"/>
<rect x="275.34" y="437.8" width="5.2" height="2.0" fill="#3a3a3a" />
<rect x="275.14" y="483.15" width="5.6" height="3.5" fill="#dcdcdc" opacity="0.45"/>
<rect x="275.34" y="483.9" width="5.2" height="2.0" fill="#dcdcdc" />
<rect x="275.14" y="495.25" width="5.6" height="3.5" fill="#dcdcdc" opacity="0.45"/>
<rect x="275.34" y="496.0" width="5.2" height="2.0" fill="#dcdcdc" />
<rect x="282.46" y="348.25" width="5.6" height="3.5" fill="#a8a8a8" opacity="0.45"/>
<rect x="282.66" y="349.0" width="5.2" height="2.0" fill="#a8a8a8" />
<rect x="282.46" y="353.05" width="5.6" height="3.5" fill="#6e6e6e" opacity="0.45"/>
<rect x="282.66" y="353.8" width="5.2" height="2.0" fill="#6e6e6e" />
<rect x="282.46" y="356.55" width="5.6" height="3.5" fill="#6e6e6e" opacity="0.45"/>
<rect x="282.66" y="357.3" width="5.2" height="2.0" fill="#6e6e6e" />
<rect x="282.46" y="360.25" width="5.6" height="3.5" fill="#6e6e6e" opacity="0.45"/>
<rect x="282.66" y="361.0" width="5.2" height="2.0" fill="#6e6e6e" />
<rect x="282.46" y="366.75" width="5.6" height="3.5" fill="#151515" opacity="0.45"/>
<rect x="282.66" y="367.5" width="5.2" height="2.0" fill="#151515" />
<rect x="282.46" y="382.95" width="5.6" height="3.5" fill="#a8a8a8" opacity="0.45"/>
<rect x="282.66" y="383.7" width="5.2" height="2.0" fill="#a8a8a8" />
<rect x="282.46" y="388.85" width="5.6" height="3.5" fill="#151515" opacity="0.45"/>
<rect x="282.66" y="389.6" width="5.2" height="2.0" fill="#151515" />
<rect x="282.46" y="396.25" width="5.6" height="3.5" fill="#3a3a3a" opacity="0.45"/>
<rect x="282.66" y="397.0" width="5.2" height="2.0" fill="#3a3a3a" />
<rect x="282.46" y="402.65" width="5.6" height="3.5" fill="#a8a8a8" opacity="0.45"/>
<rect x="282.66" y="403.4" width="5.2" height="2.0" fill="#a8a8a8" />
<rect x="282.46" y="428.45" width="5.6" height="3.5" fill="#3a3a3a" opacity="0.45"/>
<rect x="282.66" y="429.2" width="5.2" height="2.0" fill="#3a3a3a" />
<rect x="282.46" y="442.75" width="5.6" height="3.5" fill="#a8a8a8" opacity="0.45"/>
<rect x="282.66" y="443.5" width="5.2" height="2.0" fill="#a8a8a8" />
<rect x="282.46" y="494.05" width="5.6" height="3.5" fill="#dcdcdc" opacity="0.45"/>
<rect x="282.66" y="494.8" width="5.2" height="2.0" fill="#dcdcdc" />
<rect x="289.78" y="351.25" width="5.6" height="3.5" fill="#a8a8a8" opacity="0.45"/>
<rect x="289.98" y="352.0" width="5.2" height="2.0" fill="#a8a8a8" />
<rect x="289.78" y="360.25" width="5.6" height="3.5" fill="#6e6e6e" opacity="0.45"/>
<rect x="289.98" y="361.0" width="5.2" height="2.0" fill="#6e6e6e" />
<rect x="289.78" y="367.05" width="5.6" height="3.5" fill="#151515" opacity="0.45"/>
<rect x="289.98" y="367.8" width="5.2" height="2.0" fill="#151515" />
<rect x="289.78" y="373.25" width="5.6" height="3.5" fill="#a8a8a8" opacity="0.45"/>
<rect x="289.98" y="374.0" width="5.2" height="2.0" fill="#a8a8a8" />
<rect x="289.78" y="379.65" width="5.6" height="3.5" fill="#a8a8a8" opacity="0.45"/>
<rect x="289.98" y="380.4" width="5.2" height="2.0" fill="#a8a8a8" />
<rect x="289.78" y="385.25" width="5.6" height="3.5" fill="#151515" opacity="0.45"/>
<rect x="289.98" y="386.0" width="5.2" height="2.0" fill="#151515" />
<rect x="289.78" y="389.25" width="5.6" height="3.5" fill="#151515" opacity="0.45"/>
<rect x="289.98" y="390.0" width="5.2" height="2.0" fill="#151515" />
<rect x="289.78" y="395.85" width="5.6" height="3.5" fill="#6e6e6e" opacity="0.45"/>
<rect x="289.98" y="396.6" width="5.2" height="2.0" fill="#6e6e6e" />
<rect x="289.78" y="414.95" width="5.6" height="3.5" fill="#3a3a3a" opacity="0.45"/>
<rect x="289.98" y="415.7" width="5.2" height="2.0" fill="#3a3a3a" />
<rect x="289.78" y="456.95" width="5.6" height="3.5" fill="#6e6e6e" opacity="0.45"/>
<rect x="289.98" y="457.7" width="5.2" height="2.0" fill="#6e6e6e" />
<rect x="289.78" y="498.95" width="5.6" height="3.5" fill="#dcdcdc" opacity="0.45"/>
<rect x="289.98" y="499.7" width="5.2" height="2.0" fill="#dcdcdc" />
<rect x="297.1" y="350.55" width="5.6" height="3.5" fill="#a8a8a8" opacity="0.45"/>
<rect x="297.3" y="351.3" width="5.2" height="2.0" fill="#a8a8a8" />
<rect x="297.1" y="357.85" width="5.6" height="3.5" fill="#151515" opacity="0.45"/>
<rect x="297.3" y="358.6" width="5.2" height="2.0" fill="#151515" />
<rect x="297.1" y="361.05" width="5.6" height="3.5" fill="#151515" opacity="0.45"/>
<rect x="297.3" y="361.8" width="5.2" height="2.0" fill="#151515" />
<rect x="297.1" y="369.25" width="5.6" height="3.5" fill="#6e6e6e" opacity="0.45"/>
<rect x="297.3" y="370.0" width="5.2" height="2.0" fill="#6e6e6e" />
<rect x="297.1" y="373.25" width="5.6" height="3.5" fill="#6e6e6e" opacity="0.45"/>
<rect x="297.3" y="374.0" width="5.2" height="2.0" fill="#6e6e6e" />
<rect x="297.1" y="378.05" width="5.6" height="3.5" fill="#3a3a3a" opacity="0.45"/>
<rect x="297.3" y="378.8" width="5.2" height="2.0" fill="#3a3a3a" />
<rect x="297.1" y="389.85" width="5.6" height="3.5" fill="#151515" opacity="0.45"/>
<rect x="297.3" y="390.6" width="5.2" height="2.0" fill="#151515" />
<rect x="297.1" y="395.05" width="5.6" height="3.5" fill="#3a3a3a" opacity="0.45"/>
<rect x="297.3" y="395.8" width="5.2" height="2.0" fill="#3a3a3a" />
<rect x="297.1" y="424.95" width="5.6" height="3.5" fill="#3a3a3a" opacity="0.45"/>
<rect x="297.3" y="425.7" width="5.2" height="2.0" fill="#3a3a3a" />
<rect x="297.1" y="432.55" width="5.6" height="3.5" fill="#3a3a3a" opacity="0.45"/>
<rect x="297.3" y="433.3" width="5.2" height="2.0" fill="#3a3a3a" />
<rect x="297.1" y="451.15" width="5.6" height="3.5" fill="#3a3a3a" opacity="0.45"/>
<rect x="297.3" y="451.9" width="5.2" height="2.0" fill="#3a3a3a" />
<rect x="297.1" y="481.25" width="5.6" height="3.5" fill="#8c8c8c" opacity="0.45"/>
<rect x="297.3" y="482.0" width="5.2" height="2.0" fill="#8c8c8c" />
<rect x="297.1" y="493.25" width="5.6" height="3.5" fill="#dcdcdc" opacity="0.45"/>
<rect x="297.3" y="494.0" width="5.2" height="2.0" fill="#dcdcdc" />
<rect x="304.42" y="351.05" width="5.6" height="3.5" fill="#a8a8a8" opacity="0.45"/>
<rect x="304.62" y="351.8" width="5.2" height="2.0" fill="#a8a8a8" />
<rect x="304.42" y="359.45" width="5.6" height="3.5" fill="#6e6e6e" opacity="0.45"/>
<rect x="304.62" y="360.2" width="5.2" height="2.0" fill="#6e6e6e" />
<rect x="304.42" y="364.25" width="5.6" height="3.5" fill="#3a3a3a" opacity="0.45"/>
<rect x="304.62" y="365.0" width="5.2" height="2.0" fill="#3a3a3a" />
<rect x="304.42" y="369.25" width="5.6" height="3.5" fill="#6e6e6e" opacity="0.45"/>
<rect x="304.62" y="370.0" width="5.2" height="2.0" fill="#6e6e6e" />
<rect x="304.42" y="371.65" width="5.6" height="3.5" fill="#3a3a3a" opacity="0.45"/>
<rect x="304.62" y="372.4" width="5.2" height="2.0" fill="#3a3a3a" />
<rect x="304.42" y="375.25" width="5.6" height="3.5" fill="#151515" opacity="0.45"/>
<rect x="304.62" y="376.0" width="5.2" height="2.0" fill="#151515" />
<rect x="304.42" y="385.05" width="5.6" height="3.5" fill="#6e6e6e" opacity="0.45"/>
<rect x="304.62" y="385.8" width="5.2" height="2.0" fill="#6e6e6e" />
<rect x="304.42" y="393.75" width="5.6" height="3.5" fill="#a8a8a8" opacity="0.45"/>
<rect x="304.62" y="394.5" width="5.2" height="2.0" fill="#a8a8a8" />
<rect x="304.42" y="406.25" width="5.6" height="3.5" fill="#a8a8a8" opacity="0.45"/>
<rect x="304.62" y="407.0" width="5.2" height="2.0" fill="#a8a8a8" />
<rect x="304.42" y="411.65" width="5.6" height="3.5" fill="#151515" opacity="0.45"/>
<rect x="304.62" y="412.4" width="5.2" height="2.0" fill="#151515" />
<rect x="304.42" y="413.05" width="5.6" height="3.5" fill="#151515" opacity="0.45"/>
<rect x="304.62" y="413.8" width="5.2" height="2.0" fill="#151515" />
<rect x="304.42" y="482.45" width="5.6" height="3.5" fill="#8c8c8c" opacity="0.45"/>
<rect x="304.62" y="483.2" width="5.2" height="2.0" fill="#8c8c8c" />
<rect x="311.74" y="353.85" width="5.6" height="3.5" fill="#6e6e6e" opacity="0.45"/>
<rect x="311.94" y="354.6" width="5.2" height="2.0" fill="#6e6e6e" />
<rect x="311.74" y="357.05" width="5.6" height="3.5" fill="#6e6e6e" opacity="0.45"/>
<rect x="311.94" y="357.8" width="5.2" height="2.0" fill="#6e6e6e" />
<rect x="311.74" y="364.25" width="5.6" height="3.5" fill="#3a3a3a" opacity="0.45"/>
<rect x="311.94" y="365.0" width="5.2" height="2.0" fill="#3a3a3a" />
<rect x="311.74" y="371.65" width="5.6" height="3.5" fill="#151515" opacity="0.45"/>
<rect x="311.94" y="372.4" width="5.2" height="2.0" fill="#151515" />
<rect x="311.74" y="374.05" width="5.6" height="3.5" fill="#151515" opacity="0.45"/>
<rect x="311.94" y="374.8" width="5.2" height="2.0" fill="#151515" />
<rect x="311.74" y="379.65" width="5.6" height="3.5" fill="#3a3a3a" opacity="0.45"/>
<rect x="311.94" y="380.4" width="5.2" height="2.0" fill="#3a3a3a" />
<rect x="311.74" y="390.95" width="5.6" height="3.5" fill="#6e6e6e" opacity="0.45"/>
<rect x="311.94" y="391.7" width="5.2" height="2.0" fill="#6e6e6e" />
<rect x="311.74" y="397.15" width="5.6" height="3.5" fill="#151515" opacity="0.45"/>
<rect x="311.94" y="397.9" width="5.2" height="2.0" fill="#151515" />
<rect x="311.74" y="417.35" width="5.6" height="3.5" fill="#3a3a3a" opacity="0.45"/>
<rect x="311.94" y="418.1" width="5.2" height="2.0" fill="#3a3a3a" />
<rect x="311.74" y="424.45" width="5.6" height="3.5" fill="#6e6e6e" opacity="0.45"/>
<rect x="311.94" y="425.2" width="5.2" height="2.0" fill="#6e6e6e" />
<rect x="311.74" y="442.35" width="5.6" height="3.5" fill="#3a3a3a" opacity="0.45"/>
<rect x="311.94" y="443.1" width="5.2" height="2.0" fill="#3a3a3a" />
<rect x="311.74" y="460.45" width="5.6" height="3.5" fill="#a8a8a8" opacity="0.45"/>
<rect x="311.94" y="461.2" width="5.2" height="2.0" fill="#a8a8a8" />
<rect x="311.74" y="505.75" width="5.6" height="3.5" fill="#dcdcdc" opacity="0.45"/>
<rect x="311.94" y="506.5" width="5.2" height="2.0" fill="#dcdcdc" />
<rect x="319.06" y="357.85" width="5.6" height="3.5" fill="#151515" opacity="0.45"/>
<rect x="319.26" y="358.6" width="5.2" height="2.0" fill="#151515" />
<rect x="319.06" y="369.25" width="5.6" height="3.5" fill="#3a3a3a" opacity="0.45"/>
<rect x="319.26" y="370.0" width="5.2" height="2.0" fill="#3a3a3a" />
<rect x="319.06" y="376.45" width="5.6" height="3.5" fill="#3a3a3a" opacity="0.45"/>
<rect x="319.26" y="377.2" width="5.2" height="2.0" fill="#3a3a3a" />
<rect x="319.06" y="380.45" width="5.6" height="3.5" fill="#151515" opacity="0.45"/>
<rect x="319.26" y="381.2" width="5.2" height="2.0" fill="#151515" />
<rect x="319.06" y="386.65" width="5.6" height="3.5" fill="#6e6e6e" opacity="0.45"/>
<rect x="319.26" y="387.4" width="5.2" height="2.0" fill="#6e6e6e" />
<rect x="319.06" y="407.95" width="5.6" height="3.5" fill="#3a3a3a" opacity="0.45"/>
<rect x="319.26" y="408.7" width="5.2" height="2.0" fill="#3a3a3a" />
<rect x="319.06" y="416.85" width="5.6" height="3.5" fill="#3a3a3a" opacity="0.45"/>
<rect x="319.26" y="417.6" width="5.2" height="2.0" fill="#3a3a3a" />
<rect x="319.06" y="427.65" width="5.6" height="3.5" fill="#3a3a3a" opacity="0.45"/>
<rect x="319.26" y="428.4" width="5.2" height="2.0" fill="#3a3a3a" />
<rect x="319.06" y="439.15" width="5.6" height="3.5" fill="#3a3a3a" opacity="0.45"/>
<rect x="319.26" y="439.9" width="5.2" height="2.0" fill="#3a3a3a" />
<rect x="319.06" y="442.35" width="5.6" height="3.5" fill="#3a3a3a" opacity="0.45"/>
<rect x="319.26" y="443.1" width="5.2" height="2.0" fill="#3a3a3a" />
<rect x="319.06" y="463.35" width="5.6" height="3.5" fill="#6e6e6e" opacity="0.45"/>
<rect x="319.26" y="464.1" width="5.2" height="2.0" fill="#6e6e6e" />
<rect x="319.06" y="501.25" width="5.6" height="3.5" fill="#dcdcdc" opacity="0.45"/>
<rect x="319.26" y="502.0" width="5.2" height="2.0" fill="#dcdcdc" />
<rect x="336.6" y="365.85" width="6.0" height="3.5" fill="#3a3a3a" opacity="0.45"/>
<rect x="336.8" y="366.6" width="5.6" height="2.0" fill="#3a3a3a" />
<rect x="336.6" y="369.25" width="6.0" height="3.5" fill="#3a3a3a" opacity="0.45"/>
<rect x="336.8" y="370.0" width="5.6" height="2.0" fill="#3a3a3a" />
<rect x="336.6" y="374.85" width="6.0" height="3.5" fill="#3a3a3a" opacity="0.45"/>
<rect x="336.8" y="375.6" width="5.6" height="2.0" fill="#3a3a3a" />
<rect x="336.6" y="381.05" width="6.0" height="3.5" fill="#6e6e6e" opacity="0.45"/>
<rect x="336.8" y="381.8" width="5.6" height="2.0" fill="#6e6e6e" />
<rect x="336.6" y="384.45" width="6.0" height="3.5" fill="#3a3a3a" opacity="0.45"/>
<rect x="336.8" y="385.2" width="5.6" height="2.0" fill="#3a3a3a" />
<rect x="336.6" y="388.35" width="6.0" height="3.5" fill="#3a3a3a" opacity="0.45"/>
<rect x="336.8" y="389.1" width="5.6" height="2.0" fill="#3a3a3a" />
<rect x="336.6" y="406.35" width="6.0" height="3.5" fill="#151515" opacity="0.45"/>
<rect x="336.8" y="407.1" width="5.6" height="2.0" fill="#151515" />
<rect x="336.6" y="411.45" width="6.0" height="3.5" fill="#3a3a3a" opacity="0.45"/>
<rect x="336.8" y="412.2" width="5.6" height="2.0" fill="#3a3a3a" />
<rect x="336.6" y="420.25" width="6.0" height="3.5" fill="#3a3a3a" opacity="0.45"/>
<rect x="336.8" y="421.0" width="5.6" height="2.0" fill="#3a3a3a" />
<rect x="336.6" y="443.95" width="6.0" height="3.5" fill="#3a3a3a" opacity="0.45"/>
<rect x="336.8" y="444.7" width="5.6" height="2.0" fill="#3a3a3a" />
<rect x="336.6" y="452.35" width="6.0" height="3.5" fill="#a8a8a8" opacity="0.45"/>
<rect x="336.8" y="453.1" width="5.6" height="2.0" fill="#a8a8a8" />
<rect x="336.6" y="480.25" width="6.0" height="3.5" fill="#8c8c8c" opacity="0.45"/>
<rect x="336.8" y="481.0" width="5.6" height="2.0" fill="#8c8c8c" />
<rect x="336.6" y="488.25" width="6.0" height="3.5" fill="#8c8c8c" opacity="0.45"/>
<rect x="336.8" y="489.0" width="5.6" height="2.0" fill="#8c8c8c" />
<rect x="343.95" y="355.35" width="6.0" height="3.5" fill="#3a3a3a" opacity="0.45"/>
<rect x="344.15" y="356.1" width="5.6" height="2.0" fill="#3a3a3a" />
<rect x="343.95" y="361.25" width="6.0" height="3.5" fill="#3a3a3a" opacity="0.45"/>
<rect x="344.15" y="362.0" width="5.6" height="2.0" fill="#3a3a3a" />
<rect x="343.95" y="372.65" width="6.0" height="3.5" fill="#a8a8a8" opacity="0.45"/>
<rect x="344.15" y="373.4" width="5.6" height="2.0" fill="#a8a8a8" />
<rect x="343.95" y="376.05" width="6.0" height="3.5" fill="#151515" opacity="0.45"/>
<rect x="344.15" y="376.8" width="5.6" height="2.0" fill="#151515" />
<rect x="343.95" y="379.35" width="6.0" height="3.5" fill="#3a3a3a" opacity="0.45"/>
<rect x="344.15" y="380.1" width="5.6" height="2.0" fill="#3a3a3a" />
<rect x="343.95" y="396.85" width="6.0" height="3.5" fill="#151515" opacity="0.45"/>
<rect x="344.15" y="397.6" width="5.6" height="2.0" fill="#151515" />
<rect x="343.95" y="408.75" width="6.0" height="3.5" fill="#a8a8a8" opacity="0.45"/>
<rect x="344.15" y="409.5" width="5.6" height="2.0" fill="#a8a8a8" />
<rect x="343.95" y="432.95" width="6.0" height="3.5" fill="#151515" opacity="0.45"/>
<rect x="344.15" y="433.7" width="5.6" height="2.0" fill="#151515" />
<rect x="343.95" y="446.95" width="6.0" height="3.5" fill="#6e6e6e" opacity="0.45"/>
<rect x="344.15" y="447.7" width="5.6" height="2.0" fill="#6e6e6e" />
<rect x="351.3" y="353.15" width="6.0" height="3.5" fill="#151515" opacity="0.45"/>
<rect x="351.5" y="353.9" width="5.6" height="2.0" fill="#151515" />
<rect x="351.3" y="355.75" width="6.0" height="3.5" fill="#151515" opacity="0.45"/>
<rect x="351.5" y="356.5" width="5.6" height="2.0" fill="#151515" />
<rect x="351.3" y="359.05" width="6.0" height="3.5" fill="#3a3a3a" opacity="0.45"/>
<rect x="351.5" y="359.8" width="5.6" height="2.0" fill="#3a3a3a" />
<rect x="351.3" y="365.85" width="6.0" height="3.5" fill="#a8a8a8" opacity="0.45"/>
<rect x="351.5" y="366.6" width="5.6" height="2.0" fill="#a8a8a8" />
<rect x="351.3" y="378.55" width="6.0" height="3.5" fill="#151515" opacity="0.45"/>
<rect x="351.5" y="379.3" width="5.6" height="2.0" fill="#151515" />
<rect x="351.3" y="390.85" width="6.0" height="3.5" fill="#151515" opacity="0.45"/>
<rect x="351.5" y="391.6" width="5.6" height="2.0" fill="#151515" />
<rect x="351.3" y="401.65" width="6.0" height="3.5" fill="#3a3a3a" opacity="0.45"/>
<rect x="351.5" y="402.4" width="5.6" height="2.0" fill="#3a3a3a" />
<rect x="351.3" y="419.75" width="6.0" height="3.5" fill="#3a3a3a" opacity="0.45"/>
<rect x="351.5" y="420.5" width="5.6" height="2.0" fill="#3a3a3a" />
<rect x="351.3" y="443.95" width="6.0" height="3.5" fill="#151515" opacity="0.45"/>
<rect x="351.5" y="444.7" width="5.6" height="2.0" fill="#151515" />
<rect x="358.65" y="345.55" width="6.0" height="3.5" fill="#d4d4d4" opacity="0.45"/>
<rect x="358.85" y="346.3" width="5.6" height="2.0" fill="#d4d4d4" />
<rect x="358.65" y="360.25" width="6.0" height="3.5" fill="#151515" opacity="0.45"/>
<rect x="358.85" y="361.0" width="5.6" height="2.0" fill="#151515" />
<rect x="358.65" y="376.55" width="6.0" height="3.5" fill="#151515" opacity="0.45"/>
<rect x="358.85" y="377.3" width="5.6" height="2.0" fill="#151515" />
<rect x="358.65" y="432.05" width="6.0" height="3.5" fill="#3a3a3a" opacity="0.45"/>
<rect x="358.85" y="432.8" width="5.6" height="2.0" fill="#3a3a3a" />
<rect x="358.65" y="435.85" width="6.0" height="3.5" fill="#151515" opacity="0.45"/>
<rect x="358.85" y="436.6" width="5.6" height="2.0" fill="#151515" />
<rect x="366.0" y="352.25" width="6.0" height="3.5" fill="#3a3a3a" opacity="0.45"/>
<rect x="366.2" y="353.0" width="5.6" height="2.0" fill="#3a3a3a" />
<rect x="366.0" y="365.05" width="6.0" height="3.5" fill="#3a3a3a" opacity="0.45"/>
<rect x="366.2" y="365.8" width="5.6" height="2.0" fill="#3a3a3a" />
<rect x="366.0" y="371.25" width="6.0" height="3.5" fill="#151515" opacity="0.45"/>
<rect x="366.2" y="372.0" width="5.6" height="2.0" fill="#151515" />
<rect x="366.0" y="377.75" width="6.0" height="3.5" fill="#3a3a3a" opacity="0.45"/>
<rect x="366.2" y="378.5" width="5.6" height="2.0" fill="#3a3a3a" />
<rect x="366.0" y="390.35" width="6.0" height="3.5" fill="#151515" opacity="0.45"/>
<rect x="366.2" y="391.1" width="5.6" height="2.0" fill="#151515" />
<rect x="366.0" y="393.45" width="6.0" height="3.5" fill="#3a3a3a" opacity="0.45"/>
<rect x="366.2" y="394.2" width="5.6" height="2.0" fill="#3a3a3a" />
<rect x="366.0" y="401.35" width="6.0" height="3.5" fill="#151515" opacity="0.45"/>
<rect x="366.2" y="402.1" width="5.6" height="2.0" fill="#151515" />
<rect x="366.0" y="410.95" width="6.0" height="3.5" fill="#3a3a3a" opacity="0.45"/>
<rect x="366.2" y="411.7" width="5.6" height="2.0" fill="#3a3a3a" />
<rect x="366.0" y="414.25" width="6.0" height="3.5" fill="#6e6e6e" opacity="0.45"/>
<rect x="366.2" y="415.0" width="5.6" height="2.0" fill="#6e6e6e" />
<rect x="366.0" y="431.75" width="6.0" height="3.5" fill="#151515" opacity="0.45"/>
<rect x="366.2" y="432.5" width="5.6" height="2.0" fill="#151515" />
<rect x="366.0" y="433.45" width="6.0" height="3.5" fill="#151515" opacity="0.45"/>
<rect x="366.2" y="434.2" width="5.6" height="2.0" fill="#151515" />
<rect x="366.0" y="448.15" width="6.0" height="3.5" fill="#3a3a3a" opacity="0.45"/>
<rect x="366.2" y="448.9" width="5.6" height="2.0" fill="#3a3a3a" />
<rect x="366.0" y="458.85" width="6.0" height="3.5" fill="#3a3a3a" opacity="0.45"/>
<rect x="366.2" y="459.6" width="5.6" height="2.0" fill="#3a3a3a" />
<rect x="366.0" y="478.65" width="6.0" height="3.5" fill="#8c8c8c" opacity="0.45"/>
<rect x="366.2" y="479.4" width="5.6" height="2.0" fill="#8c8c8c" />
<rect x="366.0" y="487.25" width="6.0" height="3.5" fill="#8c8c8c" opacity="0.45"/>
<rect x="366.2" y="488.0" width="5.6" height="2.0" fill="#8c8c8c" />
<rect x="366.0" y="492.55" width="6.0" height="3.5" fill="#dcdcdc" opacity="0.45"/>
<rect x="366.2" y="493.3" width="5.6" height="2.0" fill="#dcdcdc" />
<rect x="373.35" y="349.45" width="6.0" height="3.5" fill="#6e6e6e" opacity="0.45"/>
<rect x="373.55" y="350.2" width="5.6" height="2.0" fill="#6e6e6e" />
<rect x="373.35" y="354.55" width="6.0" height="3.5" fill="#6e6e6e" opacity="0.45"/>
<rect x="373.55" y="355.3" width="5.6" height="2.0" fill="#6e6e6e" />
<rect x="373.35" y="359.95" width="6.0" height="3.5" fill="#151515" opacity="0.45"/>
<rect x="373.55" y="360.7" width="5.6" height="2.0" fill="#151515" />
<rect x="373.35" y="362.45" width="6.0" height="3.5" fill="#151515" opacity="0.45"/>
<rect x="373.55" y="363.2" width="5.6" height="2.0" fill="#151515" />
<rect x="373.35" y="370.05" width="6.0" height="3.5" fill="#6e6e6e" opacity="0.45"/>
<rect x="373.55" y="370.8" width="5.6" height="2.0" fill="#6e6e6e" />
<rect x="373.35" y="376.85" width="6.0" height="3.5" fill="#a8a8a8" opacity="0.45"/>
<rect x="373.55" y="377.6" width="5.6" height="2.0" fill="#a8a8a8" />
<rect x="373.35" y="383.25" width="6.0" height="3.5" fill="#3a3a3a" opacity="0.45"/>
<rect x="373.55" y="384.0" width="5.6" height="2.0" fill="#3a3a3a" />
<rect x="373.35" y="402.85" width="6.0" height="3.5" fill="#6e6e6e" opacity="0.45"/>
<rect x="373.55" y="403.6" width="5.6" height="2.0" fill="#6e6e6e" />
<rect x="373.35" y="438.05" width="6.0" height="3.5" fill="#6e6e6e" opacity="0.45"/>
<rect x="373.55" y="438.8" width="5.6" height="2.0" fill="#6e6e6e" />
<rect x="373.35" y="442.75" width="6.0" height="3.5" fill="#3a3a3a" opacity="0.45"/>
<rect x="373.55" y="443.5" width="5.6" height="2.0" fill="#3a3a3a" />
<rect x="373.35" y="486.85" width="6.0" height="3.5" fill="#8c8c8c" opacity="0.45"/>
<rect x="373.55" y="487.6" width="5.6" height="2.0" fill="#8c8c8c" />
<rect x="380.7" y="348.95" width="6.0" height="3.5" fill="#6e6e6e" opacity="0.45"/>
<rect x="380.9" y="349.7" width="5.6" height="2.0" fill="#6e6e6e" />
<rect x="380.7" y="351.45" width="6.0" height="3.5" fill="#6e6e6e" opacity="0.45"/>
<rect x="380.9" y="352.2" width="5.6" height="2.0" fill="#6e6e6e" />
<rect x="380.7" y="358.25" width="6.0" height="3.5" fill="#151515" opacity="0.45"/>
<rect x="380.9" y="359.0" width="5.6" height="2.0" fill="#151515" />
<rect x="380.7" y="364.55" width="6.0" height="3.5" fill="#6e6e6e" opacity="0.45"/>
<rect x="380.9" y="365.3" width="5.6" height="2.0" fill="#6e6e6e" />
<rect x="380.7" y="368.35" width="6.0" height="3.5" fill="#3a3a3a" opacity="0.45"/>
<rect x="380.9" y="369.1" width="5.6" height="2.0" fill="#3a3a3a" />
<rect x="380.7" y="381.05" width="6.0" height="3.5" fill="#3a3a3a" opacity="0.45"/>
<rect x="380.9" y="381.8" width="5.6" height="2.0" fill="#3a3a3a" />
<rect x="380.7" y="392.95" width="6.0" height="3.5" fill="#3a3a3a" opacity="0.45"/>
<rect x="380.9" y="393.7" width="5.6" height="2.0" fill="#3a3a3a" />
<rect x="380.7" y="405.05" width="6.0" height="3.5" fill="#151515" opacity="0.45"/>
<rect x="380.9" y="405.8" width="5.6" height="2.0" fill="#151515" />
<rect x="380.7" y="423.95" width="6.0" height="3.5" fill="#151515" opacity="0.45"/>
<rect x="380.9" y="424.7" width="5.6" height="2.0" fill="#151515" />
<rect x="380.7" y="435.45" width="6.0" height="3.5" fill="#6e6e6e" opacity="0.45"/>
<rect x="380.9" y="436.2" width="5.6" height="2.0" fill="#6e6e6e" />
<rect x="380.7" y="462.55" width="6.0" height="3.5" fill="#3a3a3a" opacity="0.45"/>
<rect x="380.9" y="463.3" width="5.6" height="2.0" fill="#3a3a3a" />
<rect x="380.7" y="471.85" width="6.0" height="3.5" fill="#8c8c8c" opacity="0.45"/>
<rect x="380.9" y="472.6" width="5.6" height="2.0" fill="#8c8c8c" />
<rect x="380.7" y="489.45" width="6.0" height="3.5" fill="#8c8c8c" opacity="0.45"/>
<rect x="380.9" y="490.2" width="5.6" height="2.0" fill="#8c8c8c" />
<rect x="388.05" y="348.05" width="6.0" height="3.5" fill="#a8a8a8" opacity="0.45"/>
<rect x="388.25" y="348.8" width="5.6" height="2.0" fill="#a8a8a8" />
<rect x="388.05" y="355.75" width="6.0" height="3.5" fill="#151515" opacity="0.45"/>
<rect x="388.25" y="356.5" width="5.6" height="2.0" fill="#151515" />
<rect x="388.05" y="368.05" width="6.0" height="3.5" fill="#3a3a3a" opacity="0.45"/>
<rect x="388.25" y="368.8" width="5.6" height="2.0" fill="#3a3a3a" />
<rect x="388.05" y="377.15" width="6.0" height="3.5" fill="#3a3a3a" opacity="0.45"/>
<rect x="388.25" y="377.9" width="5.6" height="2.0" fill="#3a3a3a" />
<rect x="388.05" y="383.65" width="6.0" height="3.5" fill="#6e6e6e" opacity="0.45"/>
<rect x="388.25" y="384.4" width="5.6" height="2.0" fill="#6e6e6e" />
<rect x="388.05" y="386.65" width="6.0" height="3.5" fill="#3a3a3a" opacity="0.45"/>
<rect x="388.25" y="387.4" width="5.6" height="2.0" fill="#3a3a3a" />
<rect x="388.05" y="413.15" width="6.0" height="3.5" fill="#151515" opacity="0.45"/>
<rect x="388.25" y="413.9" width="5.6" height="2.0" fill="#151515" />
<rect x="388.05" y="421.95" width="6.0" height="3.5" fill="#3a3a3a" opacity="0.45"/>
<rect x="388.25" y="422.7" width="5.6" height="2.0" fill="#3a3a3a" />
<rect x="388.05" y="430.35" width="6.0" height="3.5" fill="#3a3a3a" opacity="0.45"/>
<rect x="388.25" y="431.1" width="5.6" height="2.0" fill="#3a3a3a" />
<rect x="388.05" y="438.05" width="6.0" height="3.5" fill="#a8a8a8" opacity="0.45"/>
<rect x="388.25" y="438.8" width="5.6" height="2.0" fill="#a8a8a8" />
<rect x="388.05" y="450.75" width="6.0" height="3.5" fill="#a8a8a8" opacity="0.45"/>
<rect x="388.25" y="451.5" width="5.6" height="2.0" fill="#a8a8a8" />
<rect x="388.05" y="458.25" width="6.0" height="3.5" fill="#3a3a3a" opacity="0.45"/>
<rect x="388.25" y="459.0" width="5.6" height="2.0" fill="#3a3a3a" />
<rect x="388.05" y="491.05" width="6.0" height="3.5" fill="#dcdcdc" opacity="0.45"/>
<rect x="388.25" y="491.8" width="5.6" height="2.0" fill="#dcdcdc" />
<rect x="395.4" y="350.15" width="6.0" height="3.5" fill="#6e6e6e" opacity="0.45"/>
<rect x="395.6" y="350.9" width="5.6" height="2.0" fill="#6e6e6e" />
<rect x="395.4" y="356.55" width="6.0" height="3.5" fill="#151515" opacity="0.45"/>
<rect x="395.6" y="357.3" width="5.6" height="2.0" fill="#151515" />
<rect x="395.4" y="361.25" width="6.0" height="3.5" fill="#6e6e6e" opacity="0.45"/>
<rect x="395.6" y="362.0" width="5.6" height="2.0" fill="#6e6e6e" />
<rect x="395.4" y="364.65" width="6.0" height="3.5" fill="#6e6e6e" opacity="0.45"/>
<rect x="395.6" y="365.4" width="5.6" height="2.0" fill="#6e6e6e" />
<rect x="395.4" y="374.25" width="6.0" height="3.5" fill="#3a3a3a" opacity="0.45"/>
<rect x="395.6" y="375.0" width="5.6" height="2.0" fill="#3a3a3a" />
<rect x="395.4" y="379.35" width="6.0" height="3.5" fill="#6e6e6e" opacity="0.45"/>
<rect x="395.6" y="380.1" width="5.6" height="2.0" fill="#6e6e6e" />
<rect x="395.4" y="384.15" width="6.0" height="3.5" fill="#3a3a3a" opacity="0.45"/>
<rect x="395.6" y="384.9" width="5.6" height="2.0" fill="#3a3a3a" />
<rect x="395.4" y="388.35" width="6.0" height="3.5" fill="#151515" opacity="0.45"/>
<rect x="395.6" y="389.1" width="5.6" height="2.0" fill="#151515" />
<rect x="395.4" y="415.55" width="6.0" height="3.5" fill="#6e6e6e" opacity="0.45"/>
<rect x="395.6" y="416.3" width="5.6" height="2.0" fill="#6e6e6e" />
<rect x="395.4" y="422.45" width="6.0" height="3.5" fill="#3a3a3a" opacity="0.45"/>
<rect x="395.6" y="423.2" width="5.6" height="2.0" fill="#3a3a3a" />
<rect x="395.4" y="435.85" width="6.0" height="3.5" fill="#151515" opacity="0.45"/>
<rect x="395.6" y="436.6" width="5.6" height="2.0" fill="#151515" />
<rect x="395.4" y="478.25" width="6.0" height="3.5" fill="#8c8c8c" opacity="0.45"/>
<rect x="395.6" y="479.0" width="5.6" height="2.0" fill="#8c8c8c" />
<rect x="395.4" y="490.45" width="6.0" height="3.5" fill="#dcdcdc" opacity="0.45"/>
<rect x="395.6" y="491.2" width="5.6" height="2.0" fill="#dcdcdc" />
<ellipse cx="256.1" cy="339.4" rx="4.2" ry="2.0" fill="#151515"/>
<ellipse cx="256.1" cy="344.3" rx="4.2" ry="2.0" fill="#151515"/>
<ellipse cx="256.1" cy="350.7" rx="4.2" ry="2.0" fill="#151515"/>
<ellipse cx="256.1" cy="358.0" rx="4.2" ry="2.0" fill="#151515"/>
<ellipse cx="256.1" cy="367.4" rx="3.7" ry="1.3" fill="#6e6e6e"/>
<ellipse cx="256.1" cy="379.5" rx="3.7" ry="1.3" fill="#3a3a3a"/>
<ellipse cx="256.1" cy="390.3" rx="3.7" ry="1.3" fill="#6e6e6e"/>
<ellipse cx="256.1" cy="402.8" rx="3.7" ry="1.3" fill="#3a3a3a"/>
<ellipse cx="256.1" cy="420.2" rx="3.7" ry="1.3" fill="#3a3a3a"/>
<ellipse cx="256.1" cy="444.1" rx="3.7" ry="1.3" fill="#3a3a3a"/>
<ellipse cx="256.1" cy="456.3" rx="3.7" ry="1.3" fill="#151515"/>
<ellipse cx="256.1" cy="470.6" rx="3.7" ry="1.3" fill="#3a3a3a"/>
<ellipse cx="330.8" cy="341.4" rx="4.1" ry="2.0" fill="#151515"/>
<ellipse cx="330.8" cy="345.6" rx="4.1" ry="2.0" fill="#151515"/>
<ellipse cx="330.8" cy="352.0" rx="4.1" ry="2.0" fill="#151515"/>
<ellipse cx="330.8" cy="359.7" rx="4.1" ry="2.0" fill="#151515"/>
<ellipse cx="330.8" cy="368.8" rx="3.6" ry="1.3" fill="#6e6e6e"/>
<ellipse cx="330.8" cy="380.6" rx="3.6" ry="1.3" fill="#3a3a3a"/>
<ellipse cx="330.8" cy="391.3" rx="3.6" ry="1.3" fill="#6e6e6e"/>
<ellipse cx="330.8" cy="403.2" rx="3.6" ry="1.3" fill="#3a3a3a"/>
<ellipse cx="330.8" cy="420.8" rx="3.6" ry="1.3" fill="#3a3a3a"/>
<ellipse cx="330.8" cy="444.8" rx="3.6" ry="1.3" fill="#3a3a3a"/>
<ellipse cx="330.8" cy="456.3" rx="3.6" ry="1.3" fill="#151515"/>
<ellipse cx="330.8" cy="470.7" rx="3.6" ry="1.3" fill="#3a3a3a"/>
<rect x="404" y="340.5" width="6" height="1.8" fill="#e8e8e8" />
<rect x="404" y="344.1" width="6" height="1.8" fill="#e8e8e8" />
<rect x="404" y="350.6" width="6" height="1.8" fill="#e8e8e8" />
<rect x="404" y="357.1" width="6" height="1.8" fill="#e8e8e8" />
<rect x="404" y="365.90000000000003" width="6" height="1.8" fill="#e8e8e8" />
<rect x="404" y="377.70000000000005" width="6" height="1.8" fill="#e8e8e8" />
<rect x="404" y="388.70000000000005" width="6" height="1.8" fill="#e8e8e8" />
<rect x="404" y="402.3" width="6" height="1.8" fill="#e8e8e8" />
<rect x="404" y="419.90000000000003" width="6" height="1.8" fill="#e8e8e8" />
<rect x="404" y="443.90000000000003" width="6" height="1.8" fill="#e8e8e8" />
<rect x="404" y="455.40000000000003" width="6" height="1.8" fill="#e8e8e8" />
<rect x="404" y="469.8" width="6" height="1.8" fill="#e8e8e8" />
</g>
<line x1="248.5" y1="420.2" x2="411" y2="420.2" stroke="#d8d8d8" stroke-width="0.5" />
<rect x="248.2" y="319.2" width="163.2" height="206.2" fill="none" stroke="#555" stroke-width="0.8"/>
<line x1="325.6" y1="319.2" x2="325.6" y2="525.4" stroke="#555" stroke-width="0.8" />
<line x1="335.6" y1="319.2" x2="335.6" y2="525.4" stroke="#555" stroke-width="0.8" />
<text x="236" y="331.3" font-size="7.8" fill="#231f20" stroke="#231f20" stroke-width="0.1" >kb</text>
<text x="245.6" y="340.6" font-size="7.8" text-anchor="end" fill="#231f20" stroke="#231f20" stroke-width="0.1" >10.0</text>
<text x="245.6" y="346.8" font-size="7.8" text-anchor="end" fill="#231f20" stroke="#231f20" stroke-width="0.1" >8.0</text>
<text x="245.6" y="353.1" font-size="7.8" text-anchor="end" fill="#231f20" stroke="#231f20" stroke-width="0.1" >6.0</text>
<text x="245.6" y="360.40000000000003" font-size="7.8" text-anchor="end" fill="#231f20" stroke="#231f20" stroke-width="0.1" >5.0</text>
<text x="245.6" y="369.8" font-size="7.8" text-anchor="end" fill="#231f20" stroke="#231f20" stroke-width="0.1" >4.0</text>
<text x="245.6" y="381.8" font-size="7.8" text-anchor="end" fill="#231f20" stroke="#231f20" stroke-width="0.1" >3.0</text>
<text x="245.6" y="392.8" font-size="7.8" text-anchor="end" fill="#231f20" stroke="#231f20" stroke-width="0.1" >2.5</text>
<text x="245.6" y="405.6" font-size="7.8" text-anchor="end" fill="#231f20" stroke="#231f20" stroke-width="0.1" >2.0</text>
<text x="245.6" y="423.0" font-size="7.8" text-anchor="end" fill="#231f20" stroke="#231f20" stroke-width="0.1" >1.5</text>
<text x="245.6" y="446.7" font-size="7.8" text-anchor="end" fill="#231f20" stroke="#231f20" stroke-width="0.1" >1.0</text>
<text x="245.6" y="459.0" font-size="7.8" text-anchor="end" fill="#231f20" stroke="#231f20" stroke-width="0.1" >0.8</text>
<text x="245.6" y="473.3" font-size="7.8" text-anchor="end" fill="#231f20" stroke="#231f20" stroke-width="0.1" >0.6</text>
<text x="245.6" y="489.8" font-size="7.8" text-anchor="end" fill="#231f20" stroke="#231f20" stroke-width="0.1" >0.4</text>
<text x="245.6" y="510.5" font-size="7.8" text-anchor="end" fill="#231f20" stroke="#231f20" stroke-width="0.1" >0.2</text>
<text x="226.5" y="529.8" font-size="7.6" fill="#231f20" stroke="#231f20" stroke-width="0.1" >Nb</text>
<text x="226.5" y="538.6" font-size="7.6" fill="#231f20" stroke="#231f20" stroke-width="0.1" textLength="30.5" lengthAdjust="spacingAndGlyphs" >of bands:</text>
<rect x="259.8" y="526" width="66" height="12" fill="#12558f" />
<rect x="335.9" y="526" width="66" height="12" fill="#fab81c" />
<text x="292.8" y="535.3" font-size="8.4" text-anchor="middle" fill="#d6e6f6" stroke="#d6e6f6" stroke-width="0.1" >213</text>
<text x="368.9" y="535.3" font-size="8.4" text-anchor="middle" fill="#2a2010" stroke="#2a2010" stroke-width="0.1" >179</text>
<text x="458" y="290.6" font-size="9.0" font-weight="bold" fill="#231f20" textLength="41" lengthAdjust="spacingAndGlyphs" >Band size</text>
<line x1="442.6" y1="297.4" x2="442.6" y2="374.6" stroke="#231f20" stroke-width="1.2" />
<line x1="442.0" y1="374" x2="504.8" y2="374" stroke="#231f20" stroke-width="1.2" />
<line x1="439.3" y1="301.5" x2="442.6" y2="301.5" stroke="#231f20" stroke-width="0.9" />
<text x="436.6" y="304.1" font-size="8.2" text-anchor="end" fill="#231f20" stroke="#231f20" stroke-width="0.1" >15</text>
<line x1="439.3" y1="322.3" x2="442.6" y2="322.3" stroke="#231f20" stroke-width="0.9" />
<text x="436.6" y="324.90000000000003" font-size="8.2" text-anchor="end" fill="#231f20" stroke="#231f20" stroke-width="0.1" >10</text>
<line x1="439.3" y1="343.1" x2="442.6" y2="343.1" stroke="#231f20" stroke-width="0.9" />
<text x="436.6" y="345.70000000000005" font-size="8.2" text-anchor="end" fill="#231f20" stroke="#231f20" stroke-width="0.1" >5</text>
<line x1="439.3" y1="363.9" x2="442.6" y2="363.9" stroke="#231f20" stroke-width="0.9" />
<text x="436.6" y="366.5" font-size="8.2" text-anchor="end" fill="#231f20" stroke="#231f20" stroke-width="0.1" >0</text>
<line x1="460.8" y1="374" x2="460.8" y2="376.8" stroke="#231f20" stroke-width="1.0" />
<line x1="495" y1="374" x2="495" y2="376.8" stroke="#231f20" stroke-width="1.0" />
<text x="423.8" y="335.8" font-size="8.4" text-anchor="middle" fill="#231f20" stroke="#231f20" stroke-width="0.1" transform="rotate(-90 423.8 335.8)" >kb</text>
<path d="M460.6 303.2 L460.6 299.8 L495.2 299.8 L495.2 303.2" fill="none" stroke="#231f20" stroke-width="0.9" />
<text x="479.2" y="299.6" font-size="8.4" text-anchor="middle" fill="#231f20" stroke="#231f20" stroke-width="0.1" >***</text>
<path d="M460.8 306.5 L460.60 306.50 L460.10 314.80 L459.40 323.00 L458.40 331.30 L457.20 336.00 L455.80 339.60 L454.60 344.50 L454.00 349.50 L453.90 356.10 L455.20 361.00 L457.20 365.20 L459.60 368.30 L460.60 369.30 L461.00 369.30 L462.00 368.30 L464.40 365.20 L466.40 361.00 L467.70 356.10 L467.60 349.50 L467.00 344.50 L465.80 339.60 L464.40 336.00 L463.20 331.30 L462.20 323.00 L461.50 314.80 L461.00 306.50 Z" fill="url(#vgC)" stroke="none" stroke-width="0.8" />
<path d="M494.9 319.8 L494.70 319.80 L494.20 323.00 L493.30 331.30 L491.80 339.60 L489.10 347.90 L486.90 356.10 L486.20 359.40 L488.00 363.60 L491.30 366.90 L493.70 368.60 L494.60 369.30 L495.20 369.30 L496.10 368.60 L498.50 366.90 L501.80 363.60 L503.60 359.40 L502.90 356.10 L500.70 347.90 L498.00 339.60 L496.50 331.30 L495.60 323.00 L495.10 319.80 Z" fill="url(#vgP)" stroke="none" stroke-width="0.8" />
<rect x="460.1" y="342.9" width="1.4" height="14.1" fill="#111" />
<line x1="460.8" y1="331" x2="460.8" y2="366" stroke="#111" stroke-width="0.4" />
<rect x="494.2" y="344.5" width="1.4" height="18.2" fill="#111" />
<line x1="494.9" y1="335" x2="494.9" y2="367" stroke="#111" stroke-width="0.4" />
<circle cx="460.8" cy="349.8" r="0.7" fill="#fff" />
<circle cx="494.9" cy="353.6" r="0.7" fill="#fff" />
<text x="460.8" y="385.9" font-size="7.6" text-anchor="middle" fill="#231f20" stroke="#231f20" stroke-width="0.1" textLength="32" lengthAdjust="spacingAndGlyphs" >Control 1</text>
<text x="496.3" y="385.9" font-size="7.6" text-anchor="middle" fill="#231f20" stroke="#231f20" stroke-width="0.1" textLength="31.4" lengthAdjust="spacingAndGlyphs" >Patient 1</text>
<text x="460.8" y="396.2" font-size="7.6" text-anchor="middle" fill="#231f20" stroke="#231f20" stroke-width="0.1" font-style="italic" textLength="31.6" lengthAdjust="spacingAndGlyphs" >(n = 213)</text>
<text x="496.6" y="396.2" font-size="7.6" text-anchor="middle" fill="#231f20" stroke="#231f20" stroke-width="0.1" font-style="italic" textLength="32.2" lengthAdjust="spacingAndGlyphs" >(n = 179)</text>
<text x="460.8" y="422.4" font-size="9.0" font-weight="bold" fill="#231f20" textLength="35.9" lengthAdjust="spacingAndGlyphs" >Fraction</text>
<text x="464" y="432.8" font-size="9.0" font-weight="bold" fill="#231f20" textLength="30.3" lengthAdjust="spacingAndGlyphs" >&lt;1.5kb</text>
<line x1="442.6" y1="438.5" x2="442.6" y2="515.8" stroke="#231f20" stroke-width="1.2" />
<line x1="439.3" y1="515.2" x2="504.6" y2="515.2" stroke="#231f20" stroke-width="1.2" />
<line x1="439.3" y1="442.5" x2="442.6" y2="442.5" stroke="#231f20" stroke-width="0.9" />
<text x="436.8" y="445.3" font-size="8.2" text-anchor="end" fill="#231f20" stroke="#231f20" stroke-width="0.1" >40</text>
<line x1="439.3" y1="460.7" x2="442.6" y2="460.7" stroke="#231f20" stroke-width="0.9" />
<text x="436.8" y="463.5" font-size="8.2" text-anchor="end" fill="#231f20" stroke="#231f20" stroke-width="0.1" >30</text>
<line x1="439.3" y1="478.9" x2="442.6" y2="478.9" stroke="#231f20" stroke-width="0.9" />
<text x="436.8" y="481.7" font-size="8.2" text-anchor="end" fill="#231f20" stroke="#231f20" stroke-width="0.1" >20</text>
<line x1="439.3" y1="497.05" x2="442.6" y2="497.05" stroke="#231f20" stroke-width="0.9" />
<text x="436.8" y="499.85" font-size="8.2" text-anchor="end" fill="#231f20" stroke="#231f20" stroke-width="0.1" >10</text>
<line x1="439.3" y1="515.2" x2="442.6" y2="515.2" stroke="#231f20" stroke-width="0.9" />
<text x="436.8" y="518.0" font-size="8.2" text-anchor="end" fill="#231f20" stroke="#231f20" stroke-width="0.1" >0</text>
<line x1="460.8" y1="515.2" x2="460.8" y2="517.7" stroke="#231f20" stroke-width="0.9" />
<line x1="495" y1="515.2" x2="495" y2="517.7" stroke="#231f20" stroke-width="0.9" />
<text x="424.6" y="477.4" font-size="9.6" text-anchor="middle" fill="#231f20" stroke="#231f20" stroke-width="0.1" textLength="6" lengthAdjust="spacingAndGlyphs" transform="rotate(-90 424.6 477.4)" >%</text>
<rect x="453.4" y="476.8" width="14.9" height="38.4" fill="#12558f" />
<rect x="487.3" y="449.6" width="15.6" height="65.6" fill="#fab81c" />
<path d="M460.3 447.6 L460.3 444.7 L495 444.7 L495 447.6" fill="none" stroke="#231f20" stroke-width="0.9" />
<text x="478" y="444" font-size="8.4" text-anchor="middle" fill="#231f20" stroke="#231f20" stroke-width="0.1" >***</text>
<text x="460.4" y="527.9" font-size="7.6" text-anchor="middle" fill="#231f20" stroke="#231f20" stroke-width="0.1" textLength="32.1" lengthAdjust="spacingAndGlyphs" >Control 1</text>
<text x="496.3" y="527.9" font-size="7.6" text-anchor="middle" fill="#231f20" stroke="#231f20" stroke-width="0.1" textLength="31.4" lengthAdjust="spacingAndGlyphs" >Patient 1</text>
<text x="460.6" y="537.4" font-size="7.6" text-anchor="middle" fill="#231f20" stroke="#231f20" stroke-width="0.1" font-style="italic" textLength="31.6" lengthAdjust="spacingAndGlyphs" >(n = 213)</text>
<text x="496.7" y="537.4" font-size="7.6" text-anchor="middle" fill="#231f20" stroke="#231f20" stroke-width="0.1" font-style="italic" textLength="32.2" lengthAdjust="spacingAndGlyphs" >(n = 179)</text>
<rect x="0.5" y="0.5" width="519" height="544" fill="none" stroke="#000" stroke-width="1"/>
</svg></body></html>
